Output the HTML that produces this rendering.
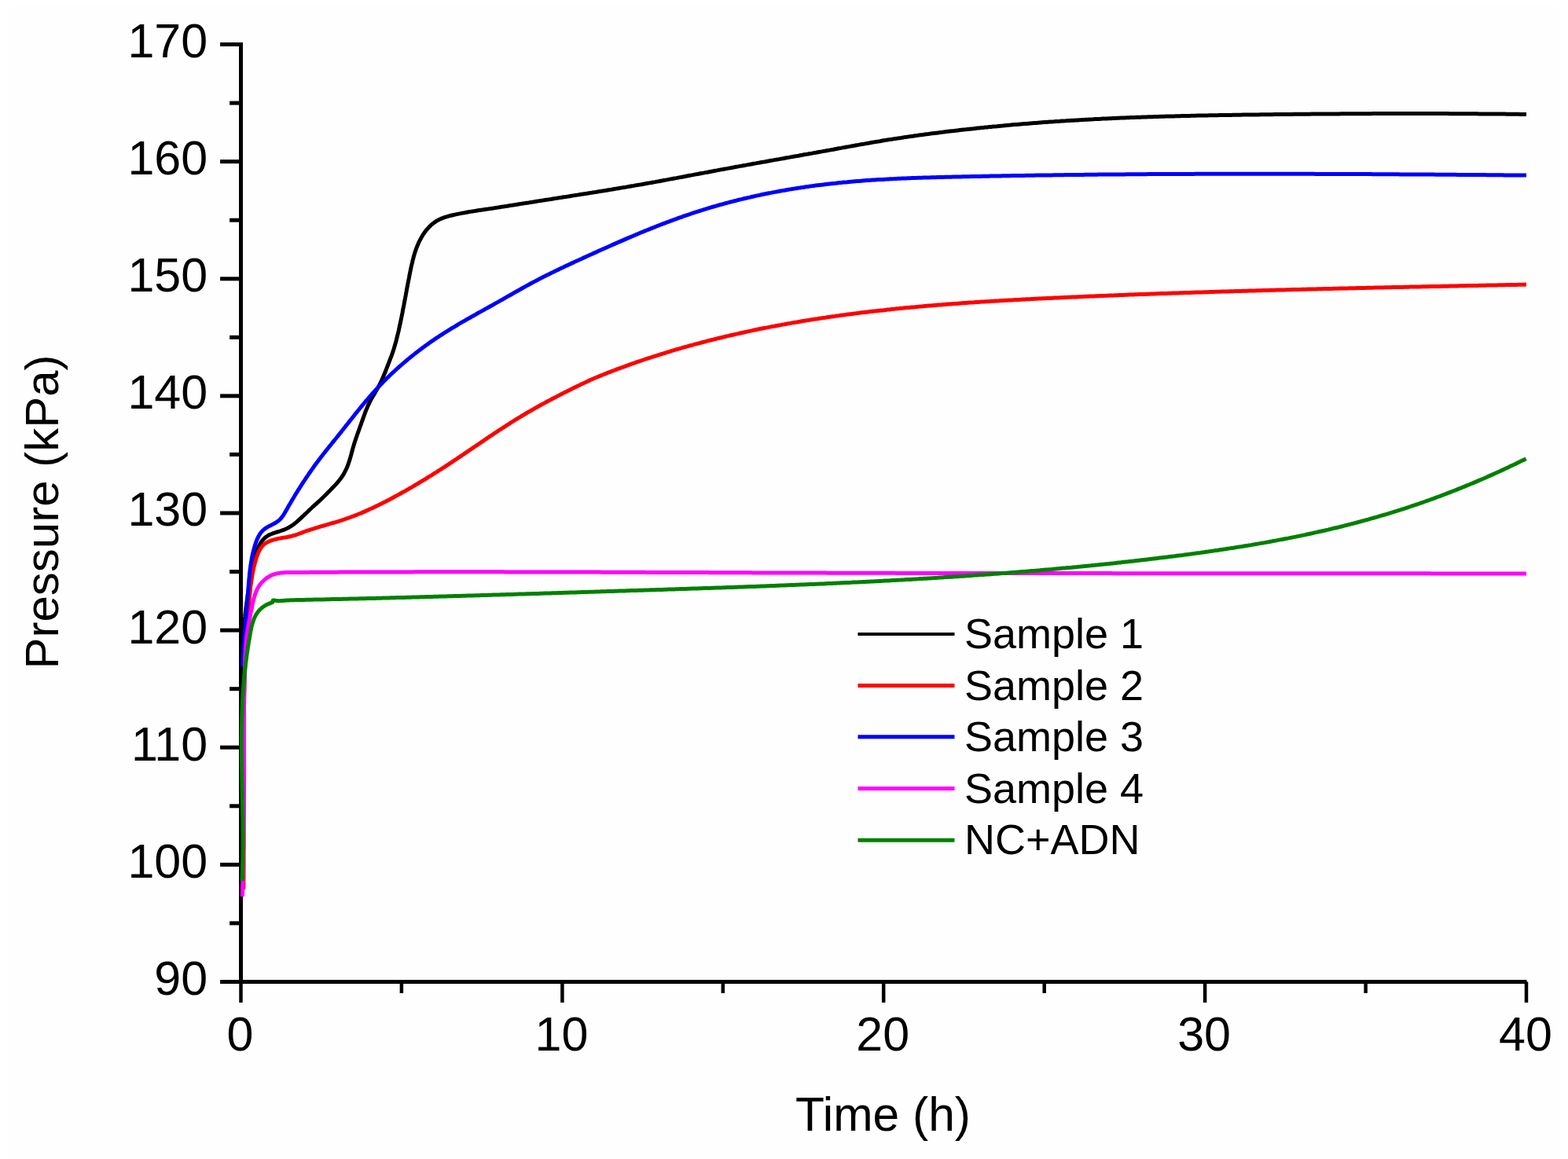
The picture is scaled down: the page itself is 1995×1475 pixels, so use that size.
<!DOCTYPE html><html><head><meta charset="utf-8"><title>Pressure vs Time</title><style>html,body{margin:0;padding:0;background:#fefefe;}svg{display:block;}text{font-family:"Liberation Sans",Arial,sans-serif;fill:#000;}</style></head><body>
<svg width="1995" height="1475" viewBox="0 0 1995 1475">
<rect x="0" y="0" width="1995" height="1475" fill="#fefefe"/>
<rect x="0" y="0" width="1995" height="7" fill="#ffffff"/><rect x="0" y="0" width="12" height="1475" fill="#ffffff"/><rect x="1984" y="0" width="11" height="1475" fill="#ffffff"/>
<g stroke="#000" stroke-width="5.0" fill="none" stroke-linecap="butt">
<line x1="306.5" y1="54.1" x2="306.5" y2="1251.9"/>
<line x1="304.0" y1="1249.5" x2="1942.5" y2="1249.5"/>
<line x1="280.1" y1="1249.5" x2="306.5" y2="1249.5"/>
<line x1="292.1" y1="1174.9" x2="306.5" y2="1174.9"/>
<line x1="280.1" y1="1100.4" x2="306.5" y2="1100.4"/>
<line x1="292.1" y1="1025.8" x2="306.5" y2="1025.8"/>
<line x1="280.1" y1="951.2" x2="306.5" y2="951.2"/>
<line x1="292.1" y1="876.7" x2="306.5" y2="876.7"/>
<line x1="280.1" y1="802.1" x2="306.5" y2="802.1"/>
<line x1="292.1" y1="727.6" x2="306.5" y2="727.6"/>
<line x1="280.1" y1="653.0" x2="306.5" y2="653.0"/>
<line x1="292.1" y1="578.4" x2="306.5" y2="578.4"/>
<line x1="280.1" y1="503.9" x2="306.5" y2="503.9"/>
<line x1="292.1" y1="429.3" x2="306.5" y2="429.3"/>
<line x1="280.1" y1="354.8" x2="306.5" y2="354.8"/>
<line x1="292.1" y1="280.2" x2="306.5" y2="280.2"/>
<line x1="280.1" y1="205.6" x2="306.5" y2="205.6"/>
<line x1="292.1" y1="131.1" x2="306.5" y2="131.1"/>
<line x1="280.1" y1="56.5" x2="306.5" y2="56.5"/>
<line x1="306.5" y1="1249.5" x2="306.5" y2="1275.9" stroke-width="4.5"/>
<line x1="510.9" y1="1249.5" x2="510.9" y2="1263.9" stroke-width="4.5"/>
<line x1="715.4" y1="1249.5" x2="715.4" y2="1275.9" stroke-width="4.5"/>
<line x1="919.8" y1="1249.5" x2="919.8" y2="1263.9" stroke-width="4.5"/>
<line x1="1124.2" y1="1249.5" x2="1124.2" y2="1275.9" stroke-width="4.5"/>
<line x1="1328.7" y1="1249.5" x2="1328.7" y2="1263.9" stroke-width="4.5"/>
<line x1="1533.1" y1="1249.5" x2="1533.1" y2="1275.9" stroke-width="4.5"/>
<line x1="1737.6" y1="1249.5" x2="1737.6" y2="1263.9" stroke-width="4.5"/>
<line x1="1942.0" y1="1249.5" x2="1942.0" y2="1275.9" stroke-width="4.5"/>
</g>
<path d="M307.5 860.0 L307.5 857.5 L307.5 855.0 L307.5 852.4 L307.5 849.9 L307.6 847.4 L307.6 844.9 L307.7 842.4 L307.7 839.9 L307.8 837.3 L307.9 834.8 L308.0 832.3 L308.1 829.8 L308.2 827.3 L308.4 824.8 L308.5 822.3 L308.6 819.8 L308.8 817.3 L309.0 814.8 L309.1 812.3 L309.3 809.9 L309.5 807.4 L309.7 804.9 L309.9 802.4 L310.2 799.9 L310.4 797.4 L310.6 794.9 L310.9 792.4 L311.1 790.0 L311.4 787.5 L311.7 785.0 L311.9 782.5 L312.2 780.0 L312.5 777.6 L312.8 775.1 L313.1 772.6 L313.5 770.1 L313.8 767.6 L314.1 765.2 L314.5 762.7 L314.8 760.2 L315.2 757.7 L315.5 755.2 L315.9 752.8 L316.3 750.3 L316.6 747.8 L317.0 745.3 L317.4 742.8 L317.8 740.4 L318.2 737.9 L318.7 735.4 L319.1 732.9 L319.5 730.4 L319.9 727.9 L320.4 725.5 L320.8 723.0 L321.3 720.5 L321.8 718.0 L322.4 715.6 L322.9 713.1 L323.6 710.7 L324.2 708.3 L325.0 705.9 L325.8 703.6 L326.6 701.2 L327.6 698.9 L328.6 696.6 L329.7 694.4 L330.9 692.2 L332.2 690.1 L333.7 688.1 L335.3 686.2 L337.0 684.5 L338.9 683.0 L341.0 681.6 L343.2 680.5 L345.5 679.5 L347.8 678.6 L350.2 677.8 L352.7 677.0 L355.1 676.3 L357.5 675.5 L359.9 674.7 L362.3 673.8 L364.6 672.8 L366.8 671.7 L368.9 670.4 L371.0 669.1 L373.0 667.7 L375.0 666.2 L377.0 664.6 L378.9 663.0 L380.7 661.3 L382.6 659.6 L384.4 657.9 L386.2 656.2 L388.1 654.4 L389.9 652.7 L391.7 651.0 L393.5 649.2 L395.4 647.5 L397.2 645.8 L399.0 644.1 L400.9 642.4 L402.7 640.8 L404.5 639.1 L406.4 637.4 L408.2 635.7 L410.0 634.0 L411.8 632.2 L413.6 630.5 L415.4 628.7 L417.1 626.9 L418.9 625.2 L420.6 623.4 L422.4 621.5 L424.1 619.7 L425.9 617.9 L427.6 616.1 L429.3 614.2 L430.9 612.3 L432.5 610.3 L434.0 608.3 L435.4 606.3 L436.7 604.2 L438.0 602.0 L439.1 599.8 L440.2 597.6 L441.3 595.3 L442.2 593.0 L443.1 590.7 L443.9 588.3 L444.7 585.9 L445.4 583.5 L446.1 581.1 L446.8 578.7 L447.4 576.2 L448.1 573.8 L448.7 571.4 L449.4 569.0 L450.1 566.6 L450.8 564.2 L451.6 561.8 L452.4 559.4 L453.2 557.0 L454.0 554.7 L454.8 552.3 L455.7 550.0 L456.5 547.6 L457.4 545.3 L458.2 542.9 L459.1 540.6 L459.9 538.2 L460.7 535.8 L461.6 533.5 L462.4 531.1 L463.3 528.7 L464.1 526.4 L465.0 524.0 L465.9 521.7 L466.9 519.4 L467.9 517.1 L468.9 514.8 L470.0 512.5 L471.1 510.3 L472.3 508.1 L473.5 505.9 L474.8 503.7 L476.1 501.6 L477.4 499.4 L478.6 497.3 L479.9 495.1 L481.1 492.9 L482.3 490.7 L483.5 488.5 L484.6 486.2 L485.6 484.0 L486.6 481.7 L487.6 479.4 L488.6 477.1 L489.6 474.8 L490.5 472.5 L491.4 470.2 L492.3 467.8 L493.2 465.5 L494.1 463.2 L495.0 460.8 L495.9 458.5 L496.8 456.1 L497.7 453.8 L498.6 451.4 L499.4 449.1 L500.2 446.7 L501.0 444.3 L501.7 441.9 L502.4 439.5 L503.1 437.1 L503.8 434.7 L504.4 432.3 L505.0 429.8 L505.6 427.4 L506.2 425.0 L506.8 422.5 L507.4 420.1 L507.9 417.6 L508.4 415.2 L509.0 412.7 L509.5 410.3 L510.0 407.8 L510.5 405.4 L511.0 402.9 L511.5 400.5 L512.0 398.0 L512.4 395.6 L512.9 393.1 L513.4 390.6 L513.9 388.2 L514.3 385.7 L514.8 383.3 L515.2 380.8 L515.7 378.4 L516.2 375.9 L516.6 373.4 L517.1 371.0 L517.5 368.5 L518.0 366.1 L518.5 363.6 L518.9 361.1 L519.4 358.7 L519.9 356.2 L520.4 353.7 L520.8 351.3 L521.3 348.8 L521.8 346.3 L522.3 343.9 L522.8 341.4 L523.3 339.0 L523.9 336.5 L524.5 334.1 L525.0 331.6 L525.7 329.2 L526.3 326.8 L527.0 324.4 L527.7 322.0 L528.5 319.6 L529.3 317.2 L530.2 314.9 L531.1 312.6 L532.1 310.3 L533.1 308.0 L534.2 305.8 L535.4 303.6 L536.6 301.4 L537.9 299.2 L539.3 297.1 L540.8 295.0 L542.3 293.0 L544.0 291.1 L545.6 289.3 L547.4 287.5 L549.2 285.8 L551.2 284.2 L553.1 282.8 L555.2 281.4 L557.3 280.2 L559.6 279.1 L561.8 278.1 L564.1 277.2 L566.5 276.3 L568.9 275.6 L571.4 274.9 L573.8 274.3 L576.3 273.7 L578.8 273.1 L581.3 272.6 L583.7 272.1 L586.2 271.6 L588.7 271.1 L591.2 270.7 L593.6 270.2 L596.1 269.8 L598.6 269.4 L601.0 269.0 L603.5 268.6 L606.0 268.2 L608.4 267.8 L610.9 267.4 L613.4 267.1 L615.8 266.7 L618.3 266.3 L620.7 266.0 L623.2 265.6 L625.7 265.2 L628.1 264.9 L630.6 264.5 L633.1 264.1 L635.6 263.7 L638.0 263.3 L640.5 262.9 L643.0 262.6 L645.5 262.2 L647.9 261.8 L650.4 261.4 L652.9 261.0 L655.4 260.6 L657.8 260.2 L660.3 259.8 L662.8 259.4 L665.3 259.0 L667.8 258.6 L670.2 258.2 L672.7 257.9 L675.2 257.5 L677.7 257.1 L680.1 256.7 L682.6 256.3 L685.1 255.9 L687.6 255.5 L690.1 255.1 L692.5 254.7 L695.0 254.3 L697.5 254.0 L700.0 253.6 L702.4 253.2 L704.9 252.8 L707.4 252.4 L709.9 252.0 L712.3 251.6 L714.8 251.2 L717.3 250.8 L719.8 250.5 L722.2 250.1 L724.7 249.7 L727.2 249.3 L729.7 248.9 L732.1 248.5 L734.6 248.1 L737.1 247.7 L739.6 247.3 L742.0 246.9 L744.5 246.6 L747.0 246.2 L749.5 245.8 L751.9 245.4 L754.4 245.0 L756.9 244.6 L759.4 244.2 L761.8 243.8 L764.3 243.4 L766.8 243.0 L769.2 242.6 L771.7 242.2 L774.2 241.8 L776.7 241.4 L779.1 241.0 L781.6 240.5 L784.1 240.1 L786.5 239.7 L789.0 239.3 L791.5 238.9 L793.9 238.5 L796.4 238.1 L798.9 237.6 L801.3 237.2 L803.8 236.8 L806.3 236.4 L808.7 235.9 L811.2 235.5 L813.7 235.1 L816.2 234.7 L818.6 234.2 L821.1 233.8 L823.6 233.3 L826.0 232.9 L828.5 232.5 L830.9 232.0 L833.4 231.6 L835.9 231.1 L838.3 230.7 L840.8 230.2 L843.3 229.8 L845.7 229.3 L848.2 228.9 L850.7 228.4 L853.1 227.9 L855.6 227.5 L858.1 227.0 L860.5 226.6 L863.0 226.1 L865.5 225.6 L867.9 225.2 L870.4 224.7 L872.8 224.3 L875.3 223.8 L877.8 223.3 L880.2 222.9 L882.7 222.4 L885.2 221.9 L887.6 221.5 L890.1 221.0 L892.5 220.5 L895.0 220.1 L897.5 219.6 L899.9 219.2 L902.4 218.7 L904.9 218.2 L907.3 217.8 L909.8 217.3 L912.3 216.9 L914.7 216.4 L917.2 215.9 L919.6 215.5 L922.1 215.0 L924.6 214.6 L927.0 214.1 L929.5 213.7 L932.0 213.2 L934.4 212.8 L936.9 212.3 L939.4 211.9 L941.8 211.4 L944.3 211.0 L946.8 210.5 L949.2 210.1 L951.7 209.6 L954.1 209.2 L956.6 208.8 L959.1 208.3 L961.5 207.9 L964.0 207.4 L966.5 207.0 L968.9 206.5 L971.4 206.1 L973.9 205.7 L976.3 205.2 L978.8 204.8 L981.3 204.3 L983.7 203.9 L986.2 203.4 L988.7 203.0 L991.1 202.6 L993.6 202.1 L996.1 201.7 L998.5 201.2 L1001.0 200.8 L1003.5 200.4 L1005.9 199.9 L1008.4 199.5 L1010.9 199.0 L1013.3 198.6 L1015.8 198.2 L1018.3 197.7 L1020.7 197.3 L1023.2 196.8 L1025.7 196.4 L1028.1 196.0 L1030.6 195.5 L1033.1 195.1 L1035.5 194.6 L1038.0 194.2 L1040.5 193.7 L1042.9 193.3 L1045.4 192.9 L1047.9 192.4 L1050.3 192.0 L1052.8 191.5 L1055.3 191.1 L1057.7 190.6 L1060.2 190.2 L1062.6 189.7 L1065.1 189.3 L1067.6 188.8 L1070.0 188.4 L1072.5 187.9 L1075.0 187.5 L1077.4 187.0 L1079.9 186.6 L1082.4 186.1 L1084.8 185.7 L1087.3 185.3 L1089.8 184.8 L1092.2 184.4 L1094.7 183.9 L1097.2 183.5 L1099.6 183.1 L1102.1 182.6 L1104.6 182.2 L1107.0 181.8 L1109.5 181.3 L1112.0 180.9 L1114.4 180.5 L1116.9 180.1 L1119.4 179.7 L1121.8 179.2 L1124.3 178.8 L1126.8 178.4 L1129.3 178.0 L1131.7 177.6 L1134.2 177.3 L1136.7 176.9 L1139.2 176.5 L1141.6 176.1 L1144.1 175.7 L1146.6 175.4 L1149.1 175.0 L1151.5 174.6 L1154.0 174.3 L1156.5 173.9 L1159.0 173.5 L1161.5 173.2 L1163.9 172.8 L1166.4 172.5 L1168.9 172.1 L1171.4 171.8 L1173.9 171.5 L1176.4 171.1 L1178.8 170.8 L1181.3 170.5 L1183.8 170.1 L1186.3 169.8 L1188.8 169.5 L1191.3 169.2 L1193.8 168.9 L1196.2 168.6 L1198.7 168.3 L1201.2 167.9 L1203.7 167.6 L1206.2 167.3 L1208.7 167.0 L1211.2 166.7 L1213.7 166.5 L1216.1 166.2 L1218.6 165.9 L1221.1 165.6 L1223.6 165.3 L1226.1 165.0 L1228.6 164.8 L1231.1 164.5 L1233.6 164.2 L1236.1 163.9 L1238.6 163.7 L1241.1 163.4 L1243.5 163.1 L1246.0 162.9 L1248.5 162.6 L1251.0 162.4 L1253.5 162.1 L1256.0 161.9 L1258.5 161.6 L1261.0 161.4 L1263.5 161.1 L1266.0 160.9 L1268.5 160.7 L1271.0 160.4 L1273.5 160.2 L1276.0 160.0 L1278.5 159.7 L1280.9 159.5 L1283.4 159.3 L1285.9 159.1 L1288.4 158.8 L1290.9 158.6 L1293.4 158.4 L1295.9 158.2 L1298.4 158.0 L1300.9 157.8 L1303.4 157.6 L1305.9 157.4 L1308.4 157.2 L1310.9 157.0 L1313.4 156.8 L1315.9 156.6 L1318.4 156.4 L1320.9 156.2 L1323.4 156.0 L1325.9 155.8 L1328.4 155.6 L1330.9 155.5 L1333.4 155.3 L1335.9 155.1 L1338.4 154.9 L1340.9 154.8 L1343.4 154.6 L1345.9 154.4 L1348.4 154.3 L1350.9 154.1 L1353.4 153.9 L1355.9 153.8 L1358.4 153.6 L1360.9 153.5 L1363.4 153.3 L1365.9 153.2 L1368.4 153.0 L1370.9 152.9 L1373.4 152.7 L1375.9 152.6 L1378.4 152.4 L1380.9 152.3 L1383.4 152.2 L1385.9 152.0 L1388.4 151.9 L1390.9 151.8 L1393.4 151.6 L1395.9 151.5 L1398.4 151.4 L1400.9 151.2 L1403.4 151.1 L1405.9 151.0 L1408.4 150.9 L1410.9 150.8 L1413.4 150.7 L1415.9 150.5 L1418.4 150.4 L1420.9 150.3 L1423.4 150.2 L1425.9 150.1 L1428.4 150.0 L1430.9 149.9 L1433.4 149.8 L1436.0 149.7 L1438.5 149.6 L1441.0 149.5 L1443.5 149.4 L1446.0 149.3 L1448.5 149.2 L1451.0 149.2 L1453.5 149.1 L1456.0 149.0 L1458.5 148.9 L1461.0 148.8 L1463.5 148.7 L1466.0 148.7 L1468.5 148.6 L1471.0 148.5 L1473.5 148.4 L1476.0 148.3 L1478.5 148.3 L1481.0 148.2 L1483.5 148.1 L1486.0 148.1 L1488.5 148.0 L1491.0 147.9 L1493.5 147.9 L1496.0 147.8 L1498.6 147.7 L1501.1 147.7 L1503.6 147.6 L1506.1 147.5 L1508.6 147.5 L1511.1 147.4 L1513.6 147.4 L1516.1 147.3 L1518.6 147.3 L1521.1 147.2 L1523.6 147.1 L1526.1 147.1 L1528.6 147.0 L1531.1 147.0 L1533.6 146.9 L1536.1 146.9 L1538.6 146.8 L1541.1 146.8 L1543.6 146.8 L1546.2 146.7 L1548.7 146.7 L1551.2 146.6 L1553.7 146.6 L1556.2 146.5 L1558.7 146.5 L1561.2 146.5 L1563.7 146.4 L1566.2 146.4 L1568.7 146.3 L1571.2 146.3 L1573.7 146.3 L1576.2 146.2 L1578.7 146.2 L1581.2 146.1 L1583.7 146.1 L1586.2 146.1 L1588.7 146.0 L1591.2 146.0 L1593.8 146.0 L1596.3 145.9 L1598.8 145.9 L1601.3 145.9 L1603.8 145.8 L1606.3 145.8 L1608.8 145.8 L1611.3 145.7 L1613.8 145.7 L1616.3 145.7 L1618.8 145.7 L1621.3 145.6 L1623.8 145.6 L1626.3 145.6 L1628.8 145.5 L1631.3 145.5 L1633.8 145.5 L1636.3 145.5 L1638.9 145.4 L1641.4 145.4 L1643.9 145.4 L1646.4 145.3 L1648.9 145.3 L1651.4 145.3 L1653.9 145.3 L1656.4 145.2 L1658.9 145.2 L1661.4 145.2 L1663.9 145.2 L1666.4 145.2 L1668.9 145.1 L1671.4 145.1 L1673.9 145.1 L1676.4 145.1 L1678.9 145.0 L1681.4 145.0 L1683.9 145.0 L1686.5 145.0 L1689.0 145.0 L1691.5 144.9 L1694.0 144.9 L1696.5 144.9 L1699.0 144.9 L1701.5 144.9 L1704.0 144.9 L1706.5 144.8 L1709.0 144.8 L1711.5 144.8 L1714.0 144.8 L1716.5 144.8 L1719.0 144.8 L1721.5 144.8 L1724.0 144.7 L1726.5 144.7 L1729.0 144.7 L1731.5 144.7 L1734.1 144.7 L1736.6 144.7 L1739.1 144.7 L1741.6 144.7 L1744.1 144.7 L1746.6 144.6 L1749.1 144.6 L1751.6 144.6 L1754.1 144.6 L1756.6 144.6 L1759.1 144.6 L1761.6 144.6 L1764.1 144.6 L1766.6 144.6 L1769.1 144.6 L1771.6 144.6 L1774.1 144.6 L1776.6 144.6 L1779.1 144.6 L1781.7 144.6 L1784.2 144.6 L1786.7 144.6 L1789.2 144.6 L1791.7 144.6 L1794.2 144.6 L1796.7 144.6 L1799.2 144.6 L1801.7 144.6 L1804.2 144.6 L1806.7 144.6 L1809.2 144.6 L1811.7 144.6 L1814.2 144.6 L1816.7 144.6 L1819.2 144.6 L1821.7 144.6 L1824.2 144.6 L1826.7 144.6 L1829.3 144.6 L1831.8 144.6 L1834.3 144.6 L1836.8 144.6 L1839.3 144.6 L1841.8 144.6 L1844.3 144.7 L1846.8 144.7 L1849.3 144.7 L1851.8 144.7 L1854.3 144.7 L1856.8 144.7 L1859.3 144.7 L1861.8 144.7 L1864.3 144.8 L1866.8 144.8 L1869.3 144.8 L1871.8 144.8 L1874.4 144.8 L1876.9 144.8 L1879.4 144.8 L1881.9 144.9 L1884.4 144.9 L1886.9 144.9 L1889.4 144.9 L1891.9 144.9 L1894.4 145.0 L1896.9 145.0 L1899.4 145.0 L1901.9 145.0 L1904.4 145.0 L1906.9 145.1 L1909.4 145.1 L1911.9 145.1 L1914.4 145.1 L1916.9 145.2 L1919.5 145.2 L1922.0 145.2 L1924.5 145.2 L1927.0 145.3 L1929.5 145.3 L1932.0 145.3 L1934.5 145.4 L1937.0 145.4 L1939.5 145.4 L1942.0 145.5" fill="none" stroke="#000000" stroke-width="5.0" stroke-linejoin="round" stroke-linecap="butt"/>
<path d="M309.8 1132.0 L309.8 1129.5 L309.9 1127.0 L309.9 1124.5 L309.9 1122.0 L309.9 1119.5 L310.0 1117.0 L310.0 1114.5 L310.0 1112.0 L310.0 1109.5 L310.0 1107.0 L310.1 1104.5 L310.1 1102.0 L310.1 1099.5 L310.1 1097.0 L310.1 1094.5 L310.1 1092.0 L310.1 1089.5 L310.1 1086.9 L310.1 1084.4 L310.1 1081.9 L310.2 1079.4 L310.2 1076.9 L310.2 1074.4 L310.2 1071.9 L310.2 1069.4 L310.2 1066.9 L310.2 1064.4 L310.2 1061.9 L310.1 1059.4 L310.1 1056.9 L310.1 1054.4 L310.1 1051.9 L310.1 1049.4 L310.1 1046.9 L310.1 1044.4 L310.1 1041.9 L310.1 1039.4 L310.1 1036.9 L310.1 1034.4 L310.1 1031.9 L310.1 1029.4 L310.1 1026.9 L310.1 1024.4 L310.0 1021.9 L310.0 1019.4 L310.0 1016.9 L310.0 1014.3 L310.0 1011.8 L310.0 1009.3 L310.0 1006.8 L310.0 1004.3 L310.0 1001.8 L310.0 999.3 L310.0 996.8 L310.0 994.3 L310.0 991.8 L310.0 989.3 L309.9 986.8 L309.9 984.3 L309.9 981.8 L309.9 979.3 L309.9 976.8 L309.9 974.3 L309.9 971.8 L309.9 969.3 L309.9 966.8 L309.9 964.3 L309.9 961.8 L309.9 959.3 L310.0 956.8 L310.0 954.3 L310.0 951.8 L310.0 949.3 L310.0 946.8 L310.0 944.3 L310.0 941.8 L310.0 939.3 L310.0 936.8 L310.1 934.3 L310.1 931.8 L310.1 929.3 L310.1 926.8 L310.1 924.2 L310.2 921.7 L310.2 919.2 L310.2 916.7 L310.3 914.2 L310.3 911.7 L310.3 909.2 L310.4 906.7 L310.4 904.2 L310.4 901.7 L310.5 899.2 L310.5 896.7 L310.6 894.2 L310.6 891.7 L310.7 889.2 L310.7 886.7 L310.8 884.2 L310.8 881.7 L310.9 879.2 L311.0 876.7 L311.0 874.2 L311.1 871.7 L311.2 869.2 L311.2 866.7 L311.3 864.2 L311.4 861.7 L311.5 859.2 L311.6 856.7 L311.6 854.2 L311.7 851.7 L311.8 849.2 L311.9 846.7 L312.0 844.2 L312.1 841.7 L312.2 839.2 L312.3 836.7 L312.5 834.2 L312.6 831.7 L312.7 829.2 L312.8 826.7 L312.9 824.2 L313.1 821.7 L313.2 819.2 L313.3 816.7 L313.5 814.2 L313.6 811.7 L313.8 809.2 L313.9 806.7 L314.1 804.2 L314.2 801.7 L314.4 799.2 L314.6 796.7 L314.7 794.2 L314.9 791.7 L315.1 789.2 L315.3 786.7 L315.4 784.2 L315.6 781.7 L315.8 779.2 L316.0 776.7 L316.2 774.2 L316.4 771.7 L316.6 769.2 L316.9 766.7 L317.1 764.2 L317.3 761.7 L317.5 759.2 L317.8 756.7 L318.0 754.3 L318.3 751.8 L318.5 749.3 L318.8 746.8 L319.1 744.3 L319.5 741.8 L319.8 739.3 L320.2 736.9 L320.6 734.4 L321.0 731.9 L321.4 729.5 L321.9 727.0 L322.4 724.6 L322.9 722.1 L323.5 719.7 L324.1 717.3 L324.8 714.8 L325.5 712.4 L326.2 710.0 L327.0 707.6 L327.9 705.3 L328.8 703.0 L329.9 700.8 L331.1 698.7 L332.4 696.7 L333.9 694.8 L335.6 693.1 L337.5 691.6 L339.6 690.3 L341.9 689.2 L344.3 688.2 L346.7 687.3 L349.3 686.6 L351.8 686.0 L354.3 685.4 L356.8 685.0 L359.3 684.5 L361.7 684.1 L364.2 683.7 L366.6 683.2 L369.0 682.7 L371.4 682.2 L373.8 681.5 L376.2 680.8 L378.5 680.0 L380.8 679.1 L383.2 678.3 L385.5 677.4 L387.8 676.5 L390.2 675.7 L392.6 674.9 L394.9 674.1 L397.3 673.3 L399.7 672.6 L402.1 671.8 L404.5 671.1 L406.9 670.4 L409.3 669.7 L411.7 669.0 L414.1 668.3 L416.5 667.6 L418.9 666.9 L421.3 666.2 L423.7 665.5 L426.1 664.8 L428.5 664.1 L430.9 663.3 L433.3 662.6 L435.6 661.8 L438.0 661.0 L440.4 660.2 L442.7 659.4 L445.1 658.5 L447.4 657.7 L449.8 656.8 L452.1 655.9 L454.4 655.0 L456.7 654.0 L459.1 653.1 L461.4 652.1 L463.7 651.1 L465.9 650.1 L468.2 649.1 L470.5 648.0 L472.8 647.0 L475.1 645.9 L477.3 644.9 L479.6 643.8 L481.8 642.7 L484.1 641.6 L486.3 640.5 L488.5 639.3 L490.8 638.2 L493.0 637.0 L495.2 635.9 L497.4 634.7 L499.7 633.5 L501.9 632.3 L504.1 631.1 L506.3 629.9 L508.5 628.7 L510.6 627.5 L512.8 626.3 L515.0 625.1 L517.2 623.8 L519.4 622.6 L521.5 621.3 L523.7 620.1 L525.9 618.8 L528.0 617.5 L530.2 616.3 L532.3 615.0 L534.5 613.7 L536.6 612.4 L538.7 611.1 L540.9 609.8 L543.0 608.5 L545.1 607.2 L547.3 605.9 L549.4 604.6 L551.5 603.2 L553.6 601.9 L555.7 600.6 L557.8 599.2 L560.0 597.9 L562.1 596.5 L564.2 595.2 L566.3 593.8 L568.4 592.4 L570.4 591.1 L572.5 589.7 L574.6 588.3 L576.7 586.9 L578.8 585.5 L580.9 584.1 L582.9 582.7 L585.0 581.3 L587.1 579.9 L589.2 578.5 L591.2 577.1 L593.3 575.7 L595.4 574.3 L597.4 572.9 L599.5 571.5 L601.6 570.1 L603.7 568.7 L605.7 567.3 L607.8 565.9 L609.9 564.5 L611.9 563.1 L614.0 561.7 L616.1 560.2 L618.1 558.8 L620.2 557.4 L622.3 556.0 L624.4 554.7 L626.5 553.3 L628.5 551.9 L630.6 550.5 L632.7 549.1 L634.8 547.7 L636.9 546.4 L639.0 545.0 L641.1 543.6 L643.2 542.3 L645.3 540.9 L647.4 539.6 L649.5 538.2 L651.6 536.9 L653.7 535.6 L655.9 534.2 L658.0 532.9 L660.1 531.6 L662.3 530.3 L664.4 529.0 L666.6 527.8 L668.7 526.5 L670.9 525.2 L673.0 523.9 L675.2 522.7 L677.4 521.5 L679.6 520.2 L681.7 519.0 L683.9 517.8 L686.1 516.5 L688.3 515.3 L690.5 514.1 L692.7 512.9 L694.9 511.7 L697.1 510.5 L699.3 509.4 L701.5 508.2 L703.7 507.0 L705.9 505.9 L708.2 504.7 L710.4 503.6 L712.6 502.4 L714.8 501.3 L717.1 500.1 L719.3 499.0 L721.5 497.9 L723.8 496.8 L726.0 495.7 L728.2 494.6 L730.5 493.4 L732.7 492.4 L735.0 491.3 L737.2 490.2 L739.5 489.1 L741.7 488.0 L744.0 487.0 L746.3 485.9 L748.5 484.9 L750.8 483.8 L753.1 482.8 L755.4 481.8 L757.7 480.8 L760.0 479.8 L762.3 478.9 L764.6 477.9 L766.9 477.0 L769.2 476.1 L771.6 475.1 L773.9 474.2 L776.2 473.3 L778.6 472.4 L780.9 471.5 L783.3 470.6 L785.6 469.7 L788.0 468.9 L790.3 468.0 L792.7 467.1 L795.0 466.3 L797.4 465.4 L799.7 464.6 L802.1 463.7 L804.4 462.9 L806.8 462.1 L809.2 461.2 L811.5 460.4 L813.9 459.6 L816.3 458.8 L818.6 458.0 L821.0 457.2 L823.4 456.4 L825.8 455.6 L828.2 454.9 L830.5 454.1 L832.9 453.3 L835.3 452.6 L837.7 451.8 L840.1 451.0 L842.5 450.3 L844.9 449.6 L847.2 448.8 L849.6 448.1 L852.0 447.4 L854.4 446.6 L856.8 445.9 L859.2 445.2 L861.6 444.5 L864.0 443.8 L866.4 443.1 L868.8 442.4 L871.2 441.7 L873.7 441.1 L876.1 440.4 L878.5 439.7 L880.9 439.1 L883.3 438.4 L885.7 437.7 L888.1 437.1 L890.6 436.5 L893.0 435.8 L895.4 435.2 L897.8 434.6 L900.2 433.9 L902.7 433.3 L905.1 432.7 L907.5 432.1 L909.9 431.5 L912.4 430.9 L914.8 430.3 L917.2 429.7 L919.7 429.1 L922.1 428.5 L924.5 427.9 L927.0 427.4 L929.4 426.8 L931.9 426.2 L934.3 425.7 L936.7 425.1 L939.2 424.6 L941.6 424.0 L944.1 423.5 L946.5 423.0 L949.0 422.4 L951.4 421.9 L953.8 421.4 L956.3 420.9 L958.7 420.3 L961.2 419.8 L963.6 419.3 L966.1 418.8 L968.6 418.3 L971.0 417.8 L973.5 417.3 L975.9 416.9 L978.4 416.4 L980.8 415.9 L983.3 415.4 L985.8 415.0 L988.2 414.5 L990.7 414.0 L993.1 413.6 L995.6 413.1 L998.1 412.7 L1000.5 412.2 L1003.0 411.8 L1005.5 411.4 L1007.9 410.9 L1010.4 410.5 L1012.9 410.1 L1015.3 409.7 L1017.8 409.2 L1020.3 408.8 L1022.7 408.4 L1025.2 408.0 L1027.7 407.6 L1030.1 407.2 L1032.6 406.8 L1035.1 406.4 L1037.6 406.0 L1040.0 405.7 L1042.5 405.3 L1045.0 404.9 L1047.5 404.5 L1049.9 404.2 L1052.4 403.8 L1054.9 403.4 L1057.4 403.1 L1059.8 402.7 L1062.3 402.4 L1064.8 402.0 L1067.3 401.7 L1069.7 401.3 L1072.2 401.0 L1074.7 400.7 L1077.2 400.3 L1079.7 400.0 L1082.1 399.7 L1084.6 399.4 L1087.1 399.1 L1089.6 398.7 L1092.1 398.4 L1094.6 398.1 L1097.0 397.8 L1099.5 397.5 L1102.0 397.2 L1104.5 396.9 L1107.0 396.6 L1109.5 396.3 L1111.9 396.0 L1114.4 395.8 L1116.9 395.5 L1119.4 395.2 L1121.9 394.9 L1124.4 394.7 L1126.9 394.4 L1129.3 394.1 L1131.8 393.9 L1134.3 393.6 L1136.8 393.3 L1139.3 393.1 L1141.8 392.8 L1144.3 392.6 L1146.8 392.3 L1149.3 392.1 L1151.7 391.8 L1154.2 391.6 L1156.7 391.4 L1159.2 391.1 L1161.7 390.9 L1164.2 390.7 L1166.7 390.4 L1169.2 390.2 L1171.7 390.0 L1174.2 389.8 L1176.7 389.5 L1179.2 389.3 L1181.6 389.1 L1184.1 388.9 L1186.6 388.7 L1189.1 388.5 L1191.6 388.3 L1194.1 388.1 L1196.6 387.9 L1199.1 387.7 L1201.6 387.5 L1204.1 387.3 L1206.6 387.1 L1209.1 386.9 L1211.6 386.7 L1214.1 386.5 L1216.6 386.4 L1219.1 386.2 L1221.6 386.0 L1224.1 385.8 L1226.6 385.6 L1229.1 385.5 L1231.6 385.3 L1234.1 385.1 L1236.6 384.9 L1239.0 384.8 L1241.5 384.6 L1244.0 384.5 L1246.5 384.3 L1249.0 384.1 L1251.5 384.0 L1254.0 383.8 L1256.5 383.7 L1259.0 383.5 L1261.5 383.3 L1264.0 383.2 L1266.5 383.0 L1269.0 382.9 L1271.5 382.8 L1274.0 382.6 L1276.5 382.5 L1279.0 382.3 L1281.5 382.2 L1284.0 382.0 L1286.5 381.9 L1289.0 381.8 L1291.5 381.6 L1294.0 381.5 L1296.5 381.4 L1299.0 381.2 L1301.5 381.1 L1304.0 381.0 L1306.5 380.8 L1309.0 380.7 L1311.5 380.6 L1314.0 380.4 L1316.5 380.3 L1319.0 380.2 L1321.5 380.1 L1324.1 380.0 L1326.6 379.8 L1329.1 379.7 L1331.6 379.6 L1334.1 379.5 L1336.6 379.4 L1339.1 379.2 L1341.6 379.1 L1344.1 379.0 L1346.6 378.9 L1349.1 378.8 L1351.6 378.7 L1354.1 378.5 L1356.6 378.4 L1359.1 378.3 L1361.6 378.2 L1364.1 378.1 L1366.6 378.0 L1369.1 377.9 L1371.6 377.8 L1374.1 377.7 L1376.6 377.6 L1379.1 377.4 L1381.6 377.3 L1384.1 377.2 L1386.6 377.1 L1389.1 377.0 L1391.6 376.9 L1394.1 376.8 L1396.6 376.7 L1399.1 376.6 L1401.6 376.5 L1404.1 376.4 L1406.6 376.3 L1409.1 376.2 L1411.6 376.1 L1414.1 376.0 L1416.6 375.9 L1419.1 375.8 L1421.6 375.7 L1424.1 375.6 L1426.6 375.5 L1429.1 375.4 L1431.6 375.3 L1434.1 375.2 L1436.6 375.1 L1439.1 375.0 L1441.6 374.9 L1444.1 374.8 L1446.6 374.7 L1449.1 374.6 L1451.6 374.5 L1454.1 374.5 L1456.6 374.4 L1459.1 374.3 L1461.6 374.2 L1464.1 374.1 L1466.6 374.0 L1469.1 373.9 L1471.6 373.8 L1474.1 373.7 L1476.6 373.6 L1479.1 373.6 L1481.6 373.5 L1484.1 373.4 L1486.6 373.3 L1489.1 373.2 L1491.6 373.1 L1494.1 373.0 L1496.6 373.0 L1499.1 372.9 L1501.6 372.8 L1504.1 372.7 L1506.6 372.6 L1509.1 372.5 L1511.6 372.5 L1514.1 372.4 L1516.7 372.3 L1519.2 372.2 L1521.7 372.1 L1524.2 372.0 L1526.7 372.0 L1529.2 371.9 L1531.7 371.8 L1534.2 371.7 L1536.7 371.7 L1539.2 371.6 L1541.7 371.5 L1544.2 371.4 L1546.7 371.3 L1549.2 371.3 L1551.7 371.2 L1554.2 371.1 L1556.7 371.0 L1559.2 371.0 L1561.7 370.9 L1564.2 370.8 L1566.7 370.7 L1569.2 370.7 L1571.7 370.6 L1574.2 370.5 L1576.7 370.4 L1579.2 370.4 L1581.7 370.3 L1584.2 370.2 L1586.7 370.2 L1589.2 370.1 L1591.7 370.0 L1594.2 369.9 L1596.7 369.9 L1599.2 369.8 L1601.7 369.7 L1604.2 369.7 L1606.7 369.6 L1609.2 369.5 L1611.7 369.5 L1614.2 369.4 L1616.7 369.3 L1619.2 369.3 L1621.7 369.2 L1624.2 369.1 L1626.7 369.1 L1629.2 369.0 L1631.7 368.9 L1634.2 368.9 L1636.7 368.8 L1639.2 368.7 L1641.7 368.7 L1644.2 368.6 L1646.7 368.5 L1649.2 368.5 L1651.7 368.4 L1654.2 368.4 L1656.7 368.3 L1659.2 368.2 L1661.7 368.2 L1664.2 368.1 L1666.7 368.0 L1669.2 368.0 L1671.7 367.9 L1674.2 367.9 L1676.7 367.8 L1679.2 367.7 L1681.7 367.7 L1684.2 367.6 L1686.7 367.5 L1689.2 367.5 L1691.7 367.4 L1694.2 367.4 L1696.7 367.3 L1699.2 367.3 L1701.7 367.2 L1704.2 367.1 L1706.8 367.1 L1709.3 367.0 L1711.8 367.0 L1714.3 366.9 L1716.8 366.8 L1719.3 366.8 L1721.8 366.7 L1724.3 366.7 L1726.8 366.6 L1729.3 366.6 L1731.8 366.5 L1734.3 366.4 L1736.8 366.4 L1739.3 366.3 L1741.8 366.3 L1744.3 366.2 L1746.8 366.2 L1749.3 366.1 L1751.8 366.1 L1754.3 366.0 L1756.8 365.9 L1759.3 365.9 L1761.8 365.8 L1764.3 365.8 L1766.8 365.7 L1769.3 365.7 L1771.8 365.6 L1774.3 365.6 L1776.8 365.5 L1779.3 365.5 L1781.8 365.4 L1784.3 365.4 L1786.8 365.3 L1789.3 365.2 L1791.8 365.2 L1794.3 365.1 L1796.8 365.1 L1799.3 365.0 L1801.8 365.0 L1804.3 364.9 L1806.8 364.9 L1809.3 364.8 L1811.8 364.8 L1814.3 364.7 L1816.8 364.7 L1819.3 364.6 L1821.9 364.6 L1824.4 364.5 L1826.9 364.5 L1829.4 364.4 L1831.9 364.4 L1834.4 364.3 L1836.9 364.3 L1839.4 364.2 L1841.9 364.2 L1844.4 364.1 L1846.9 364.1 L1849.4 364.0 L1851.9 364.0 L1854.4 363.9 L1856.9 363.8 L1859.4 363.8 L1861.9 363.7 L1864.4 363.7 L1866.9 363.6 L1869.4 363.6 L1871.9 363.5 L1874.4 363.5 L1876.9 363.4 L1879.4 363.4 L1881.9 363.3 L1884.4 363.3 L1886.9 363.2 L1889.4 363.2 L1891.9 363.1 L1894.4 363.1 L1896.9 363.0 L1899.5 363.0 L1902.0 362.9 L1904.5 362.9 L1907.0 362.8 L1909.5 362.8 L1912.0 362.7 L1914.5 362.7 L1917.0 362.6 L1919.5 362.6 L1922.0 362.5 L1924.5 362.5 L1927.0 362.4 L1929.5 362.4 L1932.0 362.3 L1934.5 362.3 L1937.0 362.2 L1939.5 362.2 L1942.0 362.1" fill="none" stroke="#ff0000" stroke-width="5.0" stroke-linejoin="round" stroke-linecap="butt"/>
<path d="M308.6 848.0 L308.7 845.5 L308.9 843.0 L309.0 840.5 L309.1 838.0 L309.3 835.5 L309.4 833.0 L309.6 830.5 L309.7 828.0 L309.9 825.5 L310.0 823.0 L310.2 820.5 L310.4 818.0 L310.6 815.5 L310.7 813.0 L310.9 810.5 L311.1 808.0 L311.3 805.5 L311.5 803.0 L311.7 800.5 L311.9 798.0 L312.1 795.5 L312.3 793.0 L312.5 790.5 L312.7 788.0 L312.9 785.5 L313.1 783.0 L313.3 780.5 L313.5 778.0 L313.7 775.5 L313.9 773.0 L314.1 770.5 L314.3 768.0 L314.5 765.5 L314.8 763.0 L315.0 760.5 L315.2 758.0 L315.4 755.5 L315.6 753.0 L315.8 750.5 L316.0 748.0 L316.2 745.6 L316.4 743.1 L316.6 740.6 L316.8 738.1 L317.1 735.6 L317.3 733.1 L317.5 730.6 L317.8 728.1 L318.1 725.6 L318.4 723.2 L318.7 720.7 L319.1 718.2 L319.5 715.7 L319.9 713.3 L320.3 710.8 L320.8 708.3 L321.3 705.9 L321.9 703.4 L322.5 700.9 L323.1 698.5 L323.8 696.1 L324.6 693.6 L325.3 691.2 L326.2 688.8 L327.1 686.4 L328.2 684.1 L329.3 681.9 L330.6 679.7 L332.0 677.8 L333.6 675.9 L335.3 674.3 L337.2 672.8 L339.3 671.4 L341.4 670.2 L343.6 669.0 L345.8 667.9 L348.0 666.7 L350.2 665.5 L352.2 664.3 L354.2 662.8 L356.0 661.3 L357.6 659.5 L359.1 657.6 L360.5 655.6 L361.8 653.5 L363.1 651.3 L364.3 649.2 L365.6 647.0 L366.8 644.8 L368.1 642.6 L369.4 640.4 L370.6 638.3 L371.9 636.1 L373.2 633.9 L374.5 631.8 L375.8 629.6 L377.1 627.5 L378.4 625.4 L379.8 623.2 L381.1 621.1 L382.4 619.0 L383.8 616.9 L385.2 614.7 L386.5 612.6 L387.9 610.6 L389.3 608.5 L390.7 606.4 L392.1 604.3 L393.5 602.2 L394.9 600.2 L396.4 598.1 L397.8 596.1 L399.3 594.0 L400.7 592.0 L402.2 590.0 L403.7 588.0 L405.2 586.0 L406.7 584.0 L408.2 582.0 L409.8 580.0 L411.3 578.0 L412.9 576.1 L414.4 574.1 L416.0 572.1 L417.5 570.2 L419.1 568.2 L420.7 566.3 L422.3 564.3 L423.8 562.4 L425.4 560.4 L427.0 558.5 L428.6 556.5 L430.1 554.6 L431.7 552.6 L433.3 550.7 L434.8 548.7 L436.4 546.7 L437.9 544.8 L439.5 542.8 L441.0 540.8 L442.6 538.9 L444.1 536.9 L445.7 534.9 L447.3 533.0 L448.8 531.0 L450.4 529.1 L451.9 527.1 L453.5 525.1 L455.1 523.2 L456.7 521.2 L458.2 519.3 L459.8 517.4 L461.4 515.4 L463.0 513.5 L464.6 511.6 L466.2 509.7 L467.9 507.8 L469.5 505.9 L471.1 504.0 L472.8 502.1 L474.4 500.2 L476.1 498.4 L477.8 496.5 L479.5 494.7 L481.2 492.8 L482.9 491.0 L484.6 489.2 L486.4 487.4 L488.1 485.6 L489.9 483.8 L491.6 482.1 L493.4 480.3 L495.2 478.6 L497.0 476.8 L498.8 475.1 L500.7 473.4 L502.5 471.7 L504.4 470.0 L506.2 468.3 L508.1 466.6 L510.0 465.0 L511.9 463.3 L513.8 461.7 L515.7 460.1 L517.6 458.5 L519.5 456.9 L521.4 455.3 L523.4 453.7 L525.4 452.1 L527.3 450.6 L529.3 449.0 L531.3 447.5 L533.3 446.0 L535.3 444.4 L537.3 442.9 L539.3 441.5 L541.3 440.0 L543.4 438.5 L545.4 437.1 L547.4 435.6 L549.5 434.2 L551.6 432.8 L553.6 431.3 L555.7 429.9 L557.8 428.6 L559.9 427.2 L562.0 425.8 L564.1 424.5 L566.2 423.1 L568.3 421.8 L570.5 420.5 L572.6 419.2 L574.7 417.8 L576.9 416.6 L579.0 415.3 L581.2 414.0 L583.3 412.7 L585.5 411.4 L587.6 410.2 L589.8 408.9 L592.0 407.7 L594.1 406.4 L596.3 405.2 L598.5 404.0 L600.7 402.7 L602.9 401.5 L605.0 400.3 L607.2 399.0 L609.4 397.8 L611.6 396.6 L613.8 395.4 L616.0 394.2 L618.2 392.9 L620.4 391.7 L622.6 390.5 L624.8 389.3 L627.0 388.1 L629.1 386.8 L631.3 385.6 L633.5 384.4 L635.7 383.1 L637.9 381.9 L640.1 380.7 L642.3 379.4 L644.4 378.2 L646.6 376.9 L648.8 375.7 L651.0 374.5 L653.2 373.2 L655.3 372.0 L657.5 370.7 L659.7 369.5 L661.9 368.3 L664.1 367.0 L666.3 365.8 L668.4 364.6 L670.6 363.4 L672.8 362.2 L675.0 361.0 L677.2 359.8 L679.5 358.6 L681.7 357.4 L683.9 356.3 L686.1 355.1 L688.3 354.0 L690.5 352.8 L692.8 351.7 L695.0 350.6 L697.2 349.5 L699.5 348.4 L701.7 347.2 L704.0 346.2 L706.2 345.1 L708.5 344.0 L710.7 342.9 L713.0 341.8 L715.3 340.7 L717.5 339.7 L719.8 338.6 L722.0 337.6 L724.3 336.5 L726.6 335.4 L728.9 334.4 L731.1 333.3 L733.4 332.3 L735.7 331.3 L737.9 330.2 L740.2 329.2 L742.5 328.1 L744.8 327.1 L747.1 326.0 L749.3 325.0 L751.6 324.0 L753.9 322.9 L756.2 321.9 L758.5 320.9 L760.8 319.8 L763.0 318.8 L765.3 317.8 L767.6 316.7 L769.9 315.7 L772.2 314.7 L774.5 313.7 L776.8 312.7 L779.1 311.6 L781.4 310.6 L783.7 309.6 L786.0 308.6 L788.3 307.6 L790.6 306.6 L792.9 305.6 L795.2 304.6 L797.5 303.6 L799.8 302.6 L802.1 301.7 L804.4 300.7 L806.7 299.7 L809.0 298.7 L811.3 297.8 L813.6 296.8 L816.0 295.8 L818.3 294.9 L820.6 293.9 L822.9 293.0 L825.2 292.1 L827.6 291.1 L829.9 290.2 L832.2 289.3 L834.6 288.3 L836.9 287.4 L839.2 286.5 L841.6 285.6 L843.9 284.7 L846.2 283.8 L848.6 282.9 L850.9 282.1 L853.3 281.2 L855.6 280.3 L858.0 279.4 L860.3 278.6 L862.7 277.7 L865.0 276.9 L867.4 276.1 L869.8 275.2 L872.1 274.4 L874.5 273.6 L876.9 272.8 L879.2 272.0 L881.6 271.2 L884.0 270.4 L886.4 269.6 L888.8 268.9 L891.1 268.1 L893.5 267.4 L895.9 266.6 L898.3 265.9 L900.7 265.2 L903.1 264.4 L905.5 263.7 L907.9 263.0 L910.3 262.3 L912.7 261.6 L915.1 260.9 L917.5 260.3 L920.0 259.6 L922.4 258.9 L924.8 258.3 L927.2 257.6 L929.6 257.0 L932.1 256.4 L934.5 255.8 L936.9 255.2 L939.3 254.5 L941.8 253.9 L944.2 253.4 L946.6 252.8 L949.1 252.2 L951.5 251.6 L954.0 251.1 L956.4 250.5 L958.8 250.0 L961.3 249.4 L963.7 248.9 L966.2 248.4 L968.6 247.8 L971.1 247.3 L973.6 246.8 L976.0 246.3 L978.5 245.8 L980.9 245.4 L983.4 244.9 L985.9 244.4 L988.3 244.0 L990.8 243.5 L993.2 243.0 L995.7 242.6 L998.2 242.2 L1000.7 241.7 L1003.1 241.3 L1005.6 240.9 L1008.1 240.5 L1010.6 240.1 L1013.0 239.7 L1015.5 239.3 L1018.0 238.9 L1020.5 238.6 L1022.9 238.2 L1025.4 237.8 L1027.9 237.5 L1030.4 237.1 L1032.9 236.8 L1035.4 236.4 L1037.8 236.1 L1040.3 235.8 L1042.8 235.5 L1045.3 235.2 L1047.8 234.9 L1050.3 234.6 L1052.8 234.3 L1055.3 234.0 L1057.8 233.7 L1060.2 233.4 L1062.7 233.2 L1065.2 232.9 L1067.7 232.6 L1070.2 232.4 L1072.7 232.1 L1075.2 231.9 L1077.7 231.7 L1080.2 231.4 L1082.7 231.2 L1085.2 231.0 L1087.7 230.8 L1090.2 230.6 L1092.7 230.4 L1095.2 230.2 L1097.7 230.0 L1100.2 229.8 L1102.7 229.6 L1105.2 229.5 L1107.7 229.3 L1110.2 229.1 L1112.7 229.0 L1115.2 228.8 L1117.7 228.6 L1120.2 228.5 L1122.7 228.4 L1125.2 228.2 L1127.7 228.1 L1130.2 227.9 L1132.7 227.8 L1135.2 227.7 L1137.7 227.6 L1140.2 227.4 L1142.7 227.3 L1145.2 227.2 L1147.7 227.1 L1150.2 227.0 L1152.7 226.9 L1155.2 226.8 L1157.7 226.7 L1160.2 226.6 L1162.7 226.5 L1165.2 226.4 L1167.7 226.3 L1170.2 226.3 L1172.7 226.2 L1175.2 226.1 L1177.7 226.0 L1180.2 225.9 L1182.7 225.9 L1185.2 225.8 L1187.8 225.7 L1190.3 225.7 L1192.8 225.6 L1195.3 225.5 L1197.8 225.5 L1200.3 225.4 L1202.8 225.3 L1205.3 225.3 L1207.8 225.2 L1210.3 225.2 L1212.8 225.1 L1215.3 225.0 L1217.8 225.0 L1220.3 224.9 L1222.8 224.9 L1225.3 224.8 L1227.8 224.8 L1230.3 224.7 L1232.9 224.7 L1235.4 224.6 L1237.9 224.6 L1240.4 224.5 L1242.9 224.5 L1245.4 224.4 L1247.9 224.4 L1250.4 224.3 L1252.9 224.3 L1255.4 224.2 L1257.9 224.2 L1260.4 224.1 L1262.9 224.1 L1265.4 224.0 L1267.9 224.0 L1270.4 223.9 L1272.9 223.9 L1275.5 223.8 L1278.0 223.8 L1280.5 223.7 L1283.0 223.7 L1285.5 223.7 L1288.0 223.6 L1290.5 223.6 L1293.0 223.5 L1295.5 223.5 L1298.0 223.5 L1300.5 223.4 L1303.0 223.4 L1305.5 223.3 L1308.0 223.3 L1310.5 223.3 L1313.0 223.2 L1315.5 223.2 L1318.0 223.1 L1320.6 223.1 L1323.1 223.1 L1325.6 223.0 L1328.1 223.0 L1330.6 223.0 L1333.1 222.9 L1335.6 222.9 L1338.1 222.9 L1340.6 222.8 L1343.1 222.8 L1345.6 222.7 L1348.1 222.7 L1350.6 222.7 L1353.1 222.7 L1355.6 222.6 L1358.1 222.6 L1360.6 222.6 L1363.2 222.5 L1365.7 222.5 L1368.2 222.5 L1370.7 222.4 L1373.2 222.4 L1375.7 222.4 L1378.2 222.4 L1380.7 222.3 L1383.2 222.3 L1385.7 222.3 L1388.2 222.2 L1390.7 222.2 L1393.2 222.2 L1395.7 222.2 L1398.2 222.1 L1400.7 222.1 L1403.2 222.1 L1405.7 222.1 L1408.3 222.0 L1410.8 222.0 L1413.3 222.0 L1415.8 222.0 L1418.3 222.0 L1420.8 221.9 L1423.3 221.9 L1425.8 221.9 L1428.3 221.9 L1430.8 221.9 L1433.3 221.8 L1435.8 221.8 L1438.3 221.8 L1440.8 221.8 L1443.3 221.8 L1445.8 221.7 L1448.3 221.7 L1450.9 221.7 L1453.4 221.7 L1455.9 221.7 L1458.4 221.7 L1460.9 221.6 L1463.4 221.6 L1465.9 221.6 L1468.4 221.6 L1470.9 221.6 L1473.4 221.6 L1475.9 221.5 L1478.4 221.5 L1480.9 221.5 L1483.4 221.5 L1485.9 221.5 L1488.4 221.5 L1490.9 221.5 L1493.5 221.5 L1496.0 221.4 L1498.5 221.4 L1501.0 221.4 L1503.5 221.4 L1506.0 221.4 L1508.5 221.4 L1511.0 221.4 L1513.5 221.4 L1516.0 221.4 L1518.5 221.4 L1521.0 221.3 L1523.5 221.3 L1526.0 221.3 L1528.5 221.3 L1531.0 221.3 L1533.5 221.3 L1536.1 221.3 L1538.6 221.3 L1541.1 221.3 L1543.6 221.3 L1546.1 221.3 L1548.6 221.3 L1551.1 221.3 L1553.6 221.3 L1556.1 221.3 L1558.6 221.3 L1561.1 221.3 L1563.6 221.2 L1566.1 221.2 L1568.6 221.2 L1571.1 221.2 L1573.6 221.2 L1576.1 221.2 L1578.6 221.2 L1581.2 221.2 L1583.7 221.2 L1586.2 221.2 L1588.7 221.2 L1591.2 221.2 L1593.7 221.2 L1596.2 221.2 L1598.7 221.2 L1601.2 221.2 L1603.7 221.2 L1606.2 221.2 L1608.7 221.2 L1611.2 221.2 L1613.7 221.2 L1616.2 221.2 L1618.7 221.2 L1621.2 221.2 L1623.8 221.2 L1626.3 221.2 L1628.8 221.3 L1631.3 221.3 L1633.8 221.3 L1636.3 221.3 L1638.8 221.3 L1641.3 221.3 L1643.8 221.3 L1646.3 221.3 L1648.8 221.3 L1651.3 221.3 L1653.8 221.3 L1656.3 221.3 L1658.8 221.3 L1661.3 221.3 L1663.8 221.3 L1666.4 221.3 L1668.9 221.3 L1671.4 221.3 L1673.9 221.4 L1676.4 221.4 L1678.9 221.4 L1681.4 221.4 L1683.9 221.4 L1686.4 221.4 L1688.9 221.4 L1691.4 221.4 L1693.9 221.4 L1696.4 221.4 L1698.9 221.4 L1701.4 221.4 L1703.9 221.5 L1706.4 221.5 L1709.0 221.5 L1711.5 221.5 L1714.0 221.5 L1716.5 221.5 L1719.0 221.5 L1721.5 221.5 L1724.0 221.5 L1726.5 221.6 L1729.0 221.6 L1731.5 221.6 L1734.0 221.6 L1736.5 221.6 L1739.0 221.6 L1741.5 221.6 L1744.0 221.6 L1746.5 221.7 L1749.0 221.7 L1751.6 221.7 L1754.1 221.7 L1756.6 221.7 L1759.1 221.7 L1761.6 221.7 L1764.1 221.8 L1766.6 221.8 L1769.1 221.8 L1771.6 221.8 L1774.1 221.8 L1776.6 221.8 L1779.1 221.8 L1781.6 221.9 L1784.1 221.9 L1786.6 221.9 L1789.1 221.9 L1791.6 221.9 L1794.2 221.9 L1796.7 222.0 L1799.2 222.0 L1801.7 222.0 L1804.2 222.0 L1806.7 222.0 L1809.2 222.0 L1811.7 222.1 L1814.2 222.1 L1816.7 222.1 L1819.2 222.1 L1821.7 222.1 L1824.2 222.1 L1826.7 222.2 L1829.2 222.2 L1831.7 222.2 L1834.2 222.2 L1836.8 222.2 L1839.3 222.2 L1841.8 222.3 L1844.3 222.3 L1846.8 222.3 L1849.3 222.3 L1851.8 222.3 L1854.3 222.4 L1856.8 222.4 L1859.3 222.4 L1861.8 222.4 L1864.3 222.4 L1866.8 222.5 L1869.3 222.5 L1871.8 222.5 L1874.3 222.5 L1876.8 222.5 L1879.4 222.6 L1881.9 222.6 L1884.4 222.6 L1886.9 222.6 L1889.4 222.6 L1891.9 222.7 L1894.4 222.7 L1896.9 222.7 L1899.4 222.7 L1901.9 222.7 L1904.4 222.8 L1906.9 222.8 L1909.4 222.8 L1911.9 222.8 L1914.4 222.9 L1916.9 222.9 L1919.5 222.9 L1922.0 222.9 L1924.5 222.9 L1927.0 223.0 L1929.5 223.0 L1932.0 223.0 L1934.5 223.0 L1937.0 223.1 L1939.5 223.1 L1942.0 223.1" fill="none" stroke="#0000ff" stroke-width="5.0" stroke-linejoin="round" stroke-linecap="butt"/>
<path d="M308.5 1141.0 L308.5 1138.5 L308.6 1136.0 L308.6 1133.5 L308.7 1131.0 L308.7 1128.5 L308.7 1126.0 L308.8 1123.5 L308.8 1121.0 L308.9 1118.5 L308.9 1116.0 L309.0 1113.5 L309.0 1111.0 L309.1 1108.5 L309.1 1106.0 L309.2 1103.4 L309.2 1100.9 L309.3 1098.4 L309.3 1095.9 L309.4 1093.4 L309.4 1090.9 L309.4 1088.4 L309.5 1085.9 L309.5 1083.4 L309.6 1080.9 L309.6 1078.4 L309.7 1075.9 L309.7 1073.4 L309.7 1070.9 L309.8 1068.4 L309.8 1065.9 L309.9 1063.4 L309.9 1060.9 L310.0 1058.4 L310.0 1055.9 L310.0 1053.4 L310.1 1050.9 L310.1 1048.4 L310.1 1045.9 L310.2 1043.4 L310.2 1040.8 L310.2 1038.3 L310.3 1035.8 L310.3 1033.3 L310.3 1030.8 L310.3 1028.3 L310.4 1025.8 L310.4 1023.3 L310.4 1020.8 L310.4 1018.3 L310.5 1015.8 L310.5 1013.3 L310.5 1010.8 L310.5 1008.3 L310.5 1005.8 L310.5 1003.3 L310.5 1000.8 L310.5 998.3 L310.6 995.8 L310.6 993.3 L310.6 990.8 L310.6 988.3 L310.6 985.8 L310.6 983.3 L310.6 980.8 L310.6 978.2 L310.6 975.7 L310.5 973.2 L310.5 970.7 L310.5 968.2 L310.5 965.7 L310.5 963.2 L310.5 960.7 L310.5 958.2 L310.5 955.7 L310.5 953.2 L310.5 950.7 L310.5 948.2 L310.5 945.7 L310.5 943.2 L310.5 940.7 L310.5 938.2 L310.5 935.7 L310.5 933.2 L310.4 930.7 L310.4 928.2 L310.4 925.7 L310.4 923.2 L310.4 920.7 L310.4 918.2 L310.5 915.7 L310.5 913.1 L310.5 910.6 L310.5 908.1 L310.5 905.6 L310.5 903.1 L310.5 900.6 L310.5 898.1 L310.6 895.6 L310.6 893.1 L310.6 890.6 L310.6 888.1 L310.7 885.6 L310.7 883.1 L310.7 880.6 L310.8 878.1 L310.8 875.6 L310.8 873.1 L310.9 870.6 L310.9 868.1 L311.0 865.6 L311.1 863.1 L311.1 860.6 L311.2 858.1 L311.3 855.5 L311.3 853.0 L311.4 850.5 L311.5 848.0 L311.6 845.5 L311.7 843.0 L311.7 840.5 L311.8 838.0 L312.0 835.5 L312.1 833.0 L312.2 830.5 L312.3 828.0 L312.4 825.5 L312.6 823.0 L312.8 820.5 L313.0 818.0 L313.2 815.5 L313.5 813.0 L313.8 810.6 L314.1 808.1 L314.4 805.6 L314.8 803.2 L315.2 800.7 L315.6 798.3 L316.0 795.8 L316.5 793.3 L316.9 790.9 L317.4 788.4 L317.9 786.0 L318.3 783.5 L318.8 781.1 L319.3 778.6 L319.9 776.1 L320.4 773.7 L320.9 771.2 L321.4 768.7 L321.9 766.2 L322.5 763.8 L323.1 761.3 L323.8 758.9 L324.5 756.5 L325.4 754.1 L326.3 751.8 L327.4 749.6 L328.6 747.4 L329.9 745.3 L331.4 743.3 L333.0 741.3 L334.8 739.5 L336.7 737.8 L338.6 736.2 L340.7 734.8 L342.8 733.5 L345.0 732.3 L347.3 731.3 L349.6 730.6 L351.9 729.9 L354.3 729.5 L356.8 729.1 L359.2 728.9 L361.7 728.7 L364.2 728.6 L366.7 728.5 L369.2 728.5 L371.7 728.5 L374.3 728.5 L376.8 728.5 L379.3 728.4 L381.8 728.4 L384.3 728.4 L386.8 728.4 L389.3 728.4 L391.9 728.4 L394.4 728.3 L396.9 728.3 L399.4 728.3 L401.9 728.3 L404.4 728.3 L406.9 728.3 L409.5 728.3 L412.0 728.2 L414.5 728.2 L417.0 728.2 L419.5 728.2 L422.0 728.2 L424.5 728.2 L427.0 728.2 L429.6 728.2 L432.1 728.1 L434.6 728.1 L437.1 728.1 L439.6 728.1 L442.1 728.1 L444.6 728.1 L447.1 728.1 L449.7 728.1 L452.2 728.1 L454.7 728.0 L457.2 728.0 L459.7 728.0 L462.2 728.0 L464.7 728.0 L467.2 728.0 L469.7 728.0 L472.3 728.0 L474.8 728.0 L477.3 728.0 L479.8 728.0 L482.3 727.9 L484.8 727.9 L487.3 727.9 L489.8 727.9 L492.3 727.9 L494.8 727.9 L497.3 727.9 L499.9 727.9 L502.4 727.9 L504.9 727.9 L507.4 727.9 L509.9 727.9 L512.4 727.9 L514.9 727.9 L517.4 727.9 L519.9 727.9 L522.4 727.9 L524.9 727.9 L527.4 727.8 L530.0 727.8 L532.5 727.8 L535.0 727.8 L537.5 727.8 L540.0 727.8 L542.5 727.8 L545.0 727.8 L547.5 727.8 L550.0 727.8 L552.5 727.8 L555.0 727.8 L557.5 727.8 L560.0 727.8 L562.5 727.8 L565.1 727.8 L567.6 727.8 L570.1 727.8 L572.6 727.8 L575.1 727.8 L577.6 727.8 L580.1 727.8 L582.6 727.8 L585.1 727.8 L587.6 727.8 L590.1 727.8 L592.6 727.8 L595.1 727.8 L597.6 727.8 L600.1 727.8 L602.6 727.8 L605.1 727.8 L607.6 727.8 L610.2 727.8 L612.7 727.8 L615.2 727.8 L617.7 727.8 L620.2 727.8 L622.7 727.8 L625.2 727.8 L627.7 727.8 L630.2 727.8 L632.7 727.8 L635.2 727.8 L637.7 727.8 L640.2 727.8 L642.7 727.9 L645.2 727.9 L647.7 727.9 L650.2 727.9 L652.7 727.9 L655.2 727.9 L657.7 727.9 L660.2 727.9 L662.7 727.9 L665.2 727.9 L667.7 727.9 L670.2 727.9 L672.7 727.9 L675.2 727.9 L677.8 727.9 L680.3 727.9 L682.8 727.9 L685.3 727.9 L687.8 727.9 L690.3 727.9 L692.8 727.9 L695.3 728.0 L697.8 728.0 L700.3 728.0 L702.8 728.0 L705.3 728.0 L707.8 728.0 L710.3 728.0 L712.8 728.0 L715.3 728.0 L717.8 728.0 L720.3 728.0 L722.8 728.0 L725.3 728.0 L727.8 728.0 L730.3 728.0 L732.8 728.1 L735.3 728.1 L737.8 728.1 L740.3 728.1 L742.8 728.1 L745.3 728.1 L747.8 728.1 L750.3 728.1 L752.8 728.1 L755.3 728.1 L757.8 728.1 L760.3 728.1 L762.8 728.1 L765.3 728.2 L767.8 728.2 L770.3 728.2 L772.8 728.2 L775.3 728.2 L777.8 728.2 L780.3 728.2 L782.8 728.2 L785.3 728.2 L787.8 728.2 L790.3 728.2 L792.8 728.2 L795.3 728.3 L797.8 728.3 L800.3 728.3 L802.8 728.3 L805.3 728.3 L807.8 728.3 L810.3 728.3 L812.8 728.3 L815.3 728.3 L817.8 728.3 L820.3 728.3 L822.8 728.4 L825.3 728.4 L827.8 728.4 L830.3 728.4 L832.8 728.4 L835.3 728.4 L837.8 728.4 L840.3 728.4 L842.8 728.4 L845.3 728.4 L847.8 728.4 L850.3 728.5 L852.9 728.5 L855.4 728.5 L857.9 728.5 L860.4 728.5 L862.9 728.5 L865.4 728.5 L867.9 728.5 L870.4 728.5 L872.9 728.5 L875.4 728.6 L877.9 728.6 L880.4 728.6 L882.9 728.6 L885.4 728.6 L887.9 728.6 L890.4 728.6 L892.9 728.6 L895.4 728.6 L897.9 728.6 L900.4 728.6 L902.9 728.7 L905.4 728.7 L907.9 728.7 L910.4 728.7 L912.9 728.7 L915.4 728.7 L917.9 728.7 L920.4 728.7 L922.9 728.7 L925.4 728.7 L927.9 728.7 L930.4 728.8 L932.9 728.8 L935.4 728.8 L937.9 728.8 L940.4 728.8 L942.9 728.8 L945.4 728.8 L947.9 728.8 L950.4 728.8 L952.9 728.8 L955.4 728.8 L957.9 728.9 L960.4 728.9 L962.9 728.9 L965.4 728.9 L967.9 728.9 L970.4 728.9 L972.9 728.9 L975.4 728.9 L977.9 728.9 L980.4 728.9 L982.9 728.9 L985.4 729.0 L987.9 729.0 L990.4 729.0 L992.9 729.0 L995.4 729.0 L997.9 729.0 L1000.4 729.0 L1002.9 729.0 L1005.4 729.0 L1007.9 729.0 L1010.4 729.0 L1012.9 729.0 L1015.4 729.0 L1017.9 729.1 L1020.4 729.1 L1022.9 729.1 L1025.4 729.1 L1027.9 729.1 L1030.4 729.1 L1032.9 729.1 L1035.4 729.1 L1037.9 729.1 L1040.4 729.1 L1042.9 729.1 L1045.4 729.1 L1047.9 729.1 L1050.4 729.1 L1053.0 729.2 L1055.5 729.2 L1058.0 729.2 L1060.5 729.2 L1063.0 729.2 L1065.5 729.2 L1068.0 729.2 L1070.5 729.2 L1073.0 729.2 L1075.5 729.2 L1078.0 729.2 L1080.5 729.2 L1083.0 729.2 L1085.5 729.2 L1088.0 729.2 L1090.5 729.2 L1093.0 729.3 L1095.5 729.3 L1098.0 729.3 L1100.5 729.3 L1103.0 729.3 L1105.5 729.3 L1108.0 729.3 L1110.5 729.3 L1113.0 729.3 L1115.5 729.3 L1118.0 729.3 L1120.5 729.3 L1123.0 729.3 L1125.5 729.3 L1128.0 729.3 L1130.5 729.3 L1133.1 729.3 L1135.6 729.3 L1138.1 729.3 L1140.6 729.4 L1143.1 729.4 L1145.6 729.4 L1148.1 729.4 L1150.6 729.4 L1153.1 729.4 L1155.6 729.4 L1158.1 729.4 L1160.6 729.4 L1163.1 729.4 L1165.6 729.4 L1168.1 729.4 L1170.6 729.4 L1173.1 729.4 L1175.6 729.4 L1178.1 729.4 L1180.6 729.4 L1183.1 729.4 L1185.6 729.4 L1188.1 729.4 L1190.6 729.4 L1193.1 729.4 L1195.7 729.4 L1198.2 729.5 L1200.7 729.5 L1203.2 729.5 L1205.7 729.5 L1208.2 729.5 L1210.7 729.5 L1213.2 729.5 L1215.7 729.5 L1218.2 729.5 L1220.7 729.5 L1223.2 729.5 L1225.7 729.5 L1228.2 729.5 L1230.7 729.5 L1233.2 729.5 L1235.7 729.5 L1238.2 729.5 L1240.7 729.5 L1243.2 729.5 L1245.7 729.5 L1248.2 729.5 L1250.8 729.5 L1253.3 729.5 L1255.8 729.5 L1258.3 729.5 L1260.8 729.5 L1263.3 729.5 L1265.8 729.5 L1268.3 729.5 L1270.8 729.5 L1273.3 729.5 L1275.8 729.5 L1278.3 729.6 L1280.8 729.6 L1283.3 729.6 L1285.8 729.6 L1288.3 729.6 L1290.8 729.6 L1293.3 729.6 L1295.8 729.6 L1298.3 729.6 L1300.8 729.6 L1303.4 729.6 L1305.9 729.6 L1308.4 729.6 L1310.9 729.6 L1313.4 729.6 L1315.9 729.6 L1318.4 729.6 L1320.9 729.6 L1323.4 729.6 L1325.9 729.6 L1328.4 729.6 L1330.9 729.6 L1333.4 729.6 L1335.9 729.6 L1338.4 729.6 L1340.9 729.6 L1343.4 729.6 L1345.9 729.6 L1348.4 729.6 L1351.0 729.6 L1353.5 729.6 L1356.0 729.6 L1358.5 729.6 L1361.0 729.6 L1363.5 729.6 L1366.0 729.6 L1368.5 729.6 L1371.0 729.6 L1373.5 729.6 L1376.0 729.6 L1378.5 729.6 L1381.0 729.6 L1383.5 729.6 L1386.0 729.6 L1388.5 729.6 L1391.0 729.6 L1393.5 729.6 L1396.1 729.6 L1398.6 729.6 L1401.1 729.6 L1403.6 729.6 L1406.1 729.6 L1408.6 729.6 L1411.1 729.6 L1413.6 729.6 L1416.1 729.7 L1418.6 729.7 L1421.1 729.7 L1423.6 729.7 L1426.1 729.7 L1428.6 729.7 L1431.1 729.7 L1433.6 729.7 L1436.1 729.7 L1438.6 729.7 L1441.1 729.7 L1443.7 729.7 L1446.2 729.7 L1448.7 729.7 L1451.2 729.7 L1453.7 729.7 L1456.2 729.7 L1458.7 729.7 L1461.2 729.7 L1463.7 729.7 L1466.2 729.7 L1468.7 729.7 L1471.2 729.7 L1473.7 729.7 L1476.2 729.7 L1478.7 729.7 L1481.2 729.7 L1483.7 729.7 L1486.2 729.7 L1488.8 729.7 L1491.3 729.7 L1493.8 729.7 L1496.3 729.7 L1498.8 729.7 L1501.3 729.7 L1503.8 729.7 L1506.3 729.7 L1508.8 729.7 L1511.3 729.7 L1513.8 729.7 L1516.3 729.7 L1518.8 729.7 L1521.3 729.7 L1523.8 729.7 L1526.3 729.7 L1528.8 729.7 L1531.3 729.7 L1533.9 729.7 L1536.4 729.7 L1538.9 729.7 L1541.4 729.7 L1543.9 729.7 L1546.4 729.7 L1548.9 729.7 L1551.4 729.7 L1553.9 729.7 L1556.4 729.7 L1558.9 729.7 L1561.4 729.7 L1563.9 729.7 L1566.4 729.7 L1568.9 729.7 L1571.4 729.7 L1573.9 729.7 L1576.4 729.7 L1578.9 729.7 L1581.5 729.7 L1584.0 729.7 L1586.5 729.7 L1589.0 729.7 L1591.5 729.7 L1594.0 729.7 L1596.5 729.7 L1599.0 729.7 L1601.5 729.7 L1604.0 729.7 L1606.5 729.7 L1609.0 729.7 L1611.5 729.7 L1614.0 729.7 L1616.5 729.7 L1619.0 729.7 L1621.5 729.7 L1624.0 729.7 L1626.5 729.7 L1629.1 729.7 L1631.6 729.7 L1634.1 729.7 L1636.6 729.7 L1639.1 729.7 L1641.6 729.7 L1644.1 729.7 L1646.6 729.7 L1649.1 729.7 L1651.6 729.7 L1654.1 729.7 L1656.6 729.7 L1659.1 729.7 L1661.6 729.7 L1664.1 729.7 L1666.6 729.7 L1669.1 729.7 L1671.6 729.7 L1674.1 729.7 L1676.6 729.7 L1679.2 729.7 L1681.7 729.7 L1684.2 729.8 L1686.7 729.8 L1689.2 729.8 L1691.7 729.8 L1694.2 729.8 L1696.7 729.8 L1699.2 729.8 L1701.7 729.8 L1704.2 729.8 L1706.7 729.8 L1709.2 729.8 L1711.7 729.8 L1714.2 729.8 L1716.7 729.8 L1719.2 729.8 L1721.7 729.8 L1724.2 729.8 L1726.7 729.8 L1729.2 729.8 L1731.7 729.8 L1734.2 729.8 L1736.8 729.8 L1739.3 729.8 L1741.8 729.8 L1744.3 729.8 L1746.8 729.8 L1749.3 729.8 L1751.8 729.8 L1754.3 729.8 L1756.8 729.8 L1759.3 729.8 L1761.8 729.8 L1764.3 729.8 L1766.8 729.8 L1769.3 729.8 L1771.8 729.8 L1774.3 729.8 L1776.8 729.8 L1779.3 729.8 L1781.8 729.8 L1784.3 729.8 L1786.8 729.8 L1789.3 729.8 L1791.8 729.8 L1794.3 729.8 L1796.8 729.8 L1799.3 729.8 L1801.9 729.8 L1804.4 729.8 L1806.9 729.8 L1809.4 729.8 L1811.9 729.8 L1814.4 729.8 L1816.9 729.8 L1819.4 729.8 L1821.9 729.9 L1824.4 729.9 L1826.9 729.9 L1829.4 729.9 L1831.9 729.9 L1834.4 729.9 L1836.9 729.9 L1839.4 729.9 L1841.9 729.9 L1844.4 729.9 L1846.9 729.9 L1849.4 729.9 L1851.9 729.9 L1854.4 729.9 L1856.9 729.9 L1859.4 729.9 L1861.9 729.9 L1864.4 729.9 L1866.9 729.9 L1869.4 729.9 L1871.9 729.9 L1874.4 729.9 L1876.9 729.9 L1879.4 729.9 L1881.9 729.9 L1884.4 729.9 L1886.9 729.9 L1889.5 729.9 L1892.0 729.9 L1894.5 729.9 L1897.0 729.9 L1899.5 729.9 L1902.0 729.9 L1904.5 730.0 L1907.0 730.0 L1909.5 730.0 L1912.0 730.0 L1914.5 730.0 L1917.0 730.0 L1919.5 730.0 L1922.0 730.0 L1924.5 730.0 L1927.0 730.0 L1929.5 730.0 L1932.0 730.0 L1934.5 730.0 L1937.0 730.0 L1939.5 730.0 L1942.0 730.0" fill="none" stroke="#ff00ff" stroke-width="5.0" stroke-linejoin="round" stroke-linecap="butt"/>
<path d="M308.0 1121.0 L308.1 1118.5 L308.2 1116.0 L308.3 1113.5 L308.4 1110.9 L308.5 1108.4 L308.6 1105.9 L308.7 1103.4 L308.7 1100.9 L308.8 1098.4 L308.8 1095.8 L308.9 1093.3 L308.9 1090.8 L309.0 1088.3 L309.0 1085.8 L309.0 1083.2 L309.1 1080.7 L309.1 1078.2 L309.1 1075.6 L309.1 1073.1 L309.1 1070.6 L309.1 1068.1 L309.1 1065.5 L309.1 1063.0 L309.1 1060.5 L309.0 1057.9 L309.0 1055.4 L309.0 1052.9 L309.0 1050.3 L308.9 1047.8 L308.9 1045.3 L308.9 1042.7 L308.8 1040.2 L308.8 1037.6 L308.7 1035.1 L308.7 1032.6 L308.7 1030.0 L308.6 1027.5 L308.6 1024.9 L308.5 1022.4 L308.5 1019.9 L308.4 1017.3 L308.4 1014.8 L308.3 1012.2 L308.3 1009.7 L308.2 1007.2 L308.1 1004.6 L308.1 1002.1 L308.0 999.5 L308.0 997.0 L307.9 994.5 L307.9 991.9 L307.8 989.4 L307.8 986.8 L307.7 984.3 L307.7 981.8 L307.7 979.2 L307.6 976.7 L307.6 974.1 L307.5 971.6 L307.5 969.1 L307.5 966.5 L307.4 964.0 L307.4 961.4 L307.4 958.9 L307.4 956.4 L307.4 953.8 L307.3 951.3 L307.3 948.7 L307.3 946.2 L307.3 943.7 L307.3 941.1 L307.3 938.6 L307.4 936.1 L307.4 933.5 L307.4 931.0 L307.4 928.5 L307.5 925.9 L307.5 923.4 L307.6 920.9 L307.6 918.3 L307.7 915.8 L307.7 913.3 L307.8 910.8 L307.9 908.2 L308.0 905.7 L308.1 903.2 L308.2 900.7 L308.3 898.1 L308.4 895.6 L308.5 893.1 L308.6 890.6 L308.8 888.1 L308.9 885.6 L309.1 883.0 L309.2 880.5 L309.4 878.0 L309.6 875.5 L309.8 873.0 L310.0 870.5 L310.2 868.0 L310.4 865.5 L310.6 863.0 L310.9 860.4 L311.1 857.9 L311.4 855.4 L311.6 852.9 L311.9 850.4 L312.2 847.9 L312.5 845.4 L312.8 842.9 L313.1 840.4 L313.5 837.9 L313.8 835.4 L314.1 832.9 L314.5 830.4 L314.9 827.9 L315.2 825.4 L315.6 822.9 L316.0 820.4 L316.4 817.8 L316.8 815.3 L317.3 812.8 L317.7 810.2 L318.1 807.7 L318.6 805.1 L319.0 802.6 L319.6 800.1 L320.1 797.5 L320.7 795.1 L321.4 792.6 L322.2 790.3 L323.1 787.9 L324.0 785.7 L325.1 783.5 L326.3 781.4 L327.7 779.4 L329.1 777.5 L330.8 775.7 L332.6 774.0 L334.6 772.5 L336.7 771.0 L339.0 769.7 L341.4 768.6 L343.9 767.6 L346.6 766.7 L346.2 766.5 L347.4 763.9 L349.6 764.1 L352.0 764.6 L354.4 764.7 L356.9 764.6 L359.5 764.4 L362.0 764.2 L364.5 764.1 L367.0 764.0 L369.5 763.8 L372.0 763.7 L374.5 763.7 L377.0 763.6 L379.6 763.5 L382.1 763.5 L384.6 763.4 L387.1 763.4 L389.6 763.3 L392.1 763.3 L394.6 763.2 L397.1 763.2 L399.6 763.1 L402.1 763.1 L404.6 763.0 L407.1 763.0 L409.6 762.9 L412.1 762.9 L414.6 762.8 L417.1 762.8 L419.6 762.7 L422.1 762.6 L424.6 762.6 L427.1 762.5 L429.6 762.5 L432.1 762.4 L434.6 762.4 L437.1 762.3 L439.6 762.3 L442.2 762.2 L444.7 762.1 L447.2 762.1 L449.7 762.0 L452.2 762.0 L454.7 761.9 L457.2 761.8 L459.7 761.8 L462.2 761.7 L464.7 761.7 L467.2 761.6 L469.7 761.5 L472.2 761.5 L474.7 761.4 L477.2 761.4 L479.7 761.3 L482.2 761.2 L484.7 761.2 L487.2 761.1 L489.7 761.0 L492.2 761.0 L494.7 760.9 L497.2 760.8 L499.7 760.8 L502.2 760.7 L504.7 760.6 L507.3 760.6 L509.8 760.5 L512.3 760.4 L514.8 760.4 L517.3 760.3 L519.8 760.2 L522.3 760.2 L524.8 760.1 L527.3 760.0 L529.8 760.0 L532.3 759.9 L534.8 759.8 L537.3 759.8 L539.8 759.7 L542.3 759.6 L544.8 759.6 L547.3 759.5 L549.8 759.4 L552.3 759.3 L554.8 759.3 L557.3 759.2 L559.8 759.1 L562.3 759.1 L564.8 759.0 L567.3 758.9 L569.9 758.8 L572.4 758.8 L574.9 758.7 L577.4 758.6 L579.9 758.6 L582.4 758.5 L584.9 758.4 L587.4 758.3 L589.9 758.3 L592.4 758.2 L594.9 758.1 L597.4 758.0 L599.9 758.0 L602.4 757.9 L604.9 757.8 L607.4 757.7 L609.9 757.7 L612.4 757.6 L614.9 757.5 L617.4 757.4 L619.9 757.4 L622.4 757.3 L624.9 757.2 L627.4 757.1 L629.9 757.1 L632.4 757.0 L635.0 756.9 L637.5 756.8 L640.0 756.8 L642.5 756.7 L645.0 756.6 L647.5 756.5 L650.0 756.5 L652.5 756.4 L655.0 756.3 L657.5 756.2 L660.0 756.1 L662.5 756.1 L665.0 756.0 L667.5 755.9 L670.0 755.8 L672.5 755.8 L675.0 755.7 L677.5 755.6 L680.0 755.5 L682.5 755.4 L685.0 755.4 L687.5 755.3 L690.0 755.2 L692.5 755.1 L695.0 755.1 L697.6 755.0 L700.1 754.9 L702.6 754.8 L705.1 754.7 L707.6 754.7 L710.1 754.6 L712.6 754.5 L715.1 754.4 L717.6 754.3 L720.1 754.3 L722.6 754.2 L725.1 754.1 L727.6 754.0 L730.1 753.9 L732.6 753.9 L735.1 753.8 L737.6 753.7 L740.1 753.6 L742.6 753.5 L745.1 753.5 L747.6 753.4 L750.1 753.3 L752.6 753.2 L755.1 753.2 L757.6 753.1 L760.2 753.0 L762.7 752.9 L765.2 752.8 L767.7 752.8 L770.2 752.7 L772.7 752.6 L775.2 752.5 L777.7 752.4 L780.2 752.4 L782.7 752.3 L785.2 752.2 L787.7 752.1 L790.2 752.0 L792.7 752.0 L795.2 751.9 L797.7 751.8 L800.2 751.7 L802.7 751.6 L805.2 751.6 L807.7 751.5 L810.2 751.4 L812.7 751.3 L815.2 751.2 L817.8 751.2 L820.3 751.1 L822.8 751.0 L825.3 750.9 L827.8 750.8 L830.3 750.8 L832.8 750.7 L835.3 750.6 L837.8 750.5 L840.3 750.4 L842.8 750.4 L845.3 750.3 L847.8 750.2 L850.3 750.1 L852.8 750.0 L855.3 750.0 L857.8 749.9 L860.3 749.8 L862.8 749.7 L865.3 749.6 L867.8 749.6 L870.3 749.5 L872.8 749.4 L875.4 749.3 L877.9 749.2 L880.4 749.1 L882.9 749.1 L885.4 749.0 L887.9 748.9 L890.4 748.8 L892.9 748.7 L895.4 748.6 L897.9 748.6 L900.4 748.5 L902.9 748.4 L905.4 748.3 L907.9 748.2 L910.4 748.1 L912.9 748.1 L915.4 748.0 L917.9 747.9 L920.4 747.8 L922.9 747.7 L925.4 747.6 L927.9 747.5 L930.4 747.4 L932.9 747.4 L935.5 747.3 L938.0 747.2 L940.5 747.1 L943.0 747.0 L945.5 746.9 L948.0 746.8 L950.5 746.7 L953.0 746.6 L955.5 746.5 L958.0 746.5 L960.5 746.4 L963.0 746.3 L965.5 746.2 L968.0 746.1 L970.5 746.0 L973.0 745.9 L975.5 745.8 L978.0 745.7 L980.5 745.6 L983.0 745.5 L985.5 745.4 L988.0 745.3 L990.5 745.2 L993.0 745.1 L995.5 745.0 L998.0 744.9 L1000.5 744.8 L1003.0 744.7 L1005.6 744.6 L1008.1 744.5 L1010.6 744.4 L1013.1 744.3 L1015.6 744.2 L1018.1 744.1 L1020.6 744.0 L1023.1 743.9 L1025.6 743.8 L1028.1 743.7 L1030.6 743.6 L1033.1 743.5 L1035.6 743.4 L1038.1 743.3 L1040.6 743.2 L1043.1 743.1 L1045.6 743.0 L1048.1 742.9 L1050.6 742.7 L1053.1 742.6 L1055.6 742.5 L1058.1 742.4 L1060.6 742.3 L1063.1 742.2 L1065.6 742.1 L1068.1 742.0 L1070.6 741.8 L1073.1 741.7 L1075.6 741.6 L1078.1 741.5 L1080.6 741.4 L1083.1 741.3 L1085.6 741.1 L1088.1 741.0 L1090.6 740.9 L1093.1 740.8 L1095.6 740.7 L1098.1 740.5 L1100.6 740.4 L1103.1 740.3 L1105.6 740.2 L1108.1 740.0 L1110.7 739.9 L1113.2 739.8 L1115.7 739.7 L1118.2 739.5 L1120.7 739.4 L1123.2 739.3 L1125.7 739.1 L1128.2 739.0 L1130.7 738.9 L1133.2 738.7 L1135.7 738.6 L1138.2 738.5 L1140.7 738.3 L1143.2 738.2 L1145.7 738.1 L1148.2 737.9 L1150.7 737.8 L1153.2 737.6 L1155.7 737.5 L1158.2 737.4 L1160.7 737.2 L1163.2 737.1 L1165.7 736.9 L1168.2 736.8 L1170.7 736.6 L1173.2 736.5 L1175.7 736.3 L1178.2 736.2 L1180.7 736.0 L1183.2 735.9 L1185.7 735.7 L1188.2 735.6 L1190.7 735.4 L1193.2 735.3 L1195.7 735.1 L1198.2 735.0 L1200.7 734.8 L1203.2 734.6 L1205.7 734.5 L1208.2 734.3 L1210.7 734.2 L1213.2 734.0 L1215.7 733.8 L1218.2 733.7 L1220.7 733.5 L1223.2 733.3 L1225.7 733.2 L1228.2 733.0 L1230.6 732.8 L1233.1 732.7 L1235.6 732.5 L1238.1 732.3 L1240.6 732.1 L1243.1 732.0 L1245.6 731.8 L1248.1 731.6 L1250.6 731.4 L1253.1 731.3 L1255.6 731.1 L1258.1 730.9 L1260.6 730.7 L1263.1 730.5 L1265.6 730.3 L1268.1 730.2 L1270.6 730.0 L1273.1 729.8 L1275.6 729.6 L1278.1 729.4 L1280.6 729.2 L1283.1 729.0 L1285.6 728.8 L1288.1 728.6 L1290.6 728.4 L1293.1 728.2 L1295.6 728.0 L1298.1 727.8 L1300.6 727.6 L1303.1 727.4 L1305.6 727.2 L1308.1 727.0 L1310.6 726.8 L1313.0 726.6 L1315.5 726.4 L1318.0 726.2 L1320.5 726.0 L1323.0 725.8 L1325.5 725.5 L1328.0 725.3 L1330.5 725.1 L1333.0 724.9 L1335.5 724.7 L1338.0 724.5 L1340.5 724.2 L1343.0 724.0 L1345.5 723.8 L1348.0 723.6 L1350.5 723.3 L1353.0 723.1 L1355.5 722.9 L1358.0 722.6 L1360.4 722.4 L1362.9 722.2 L1365.4 721.9 L1367.9 721.7 L1370.4 721.5 L1372.9 721.2 L1375.4 721.0 L1377.9 720.7 L1380.4 720.5 L1382.9 720.3 L1385.4 720.0 L1387.9 719.8 L1390.4 719.5 L1392.9 719.3 L1395.4 719.0 L1397.8 718.8 L1400.3 718.5 L1402.8 718.2 L1405.3 718.0 L1407.8 717.7 L1410.3 717.5 L1412.8 717.2 L1415.3 716.9 L1417.8 716.7 L1420.3 716.4 L1422.8 716.1 L1425.3 715.9 L1427.7 715.6 L1430.2 715.3 L1432.7 715.0 L1435.2 714.8 L1437.7 714.5 L1440.2 714.2 L1442.7 713.9 L1445.2 713.6 L1447.7 713.4 L1450.2 713.1 L1452.6 712.8 L1455.1 712.5 L1457.6 712.2 L1460.1 711.9 L1462.6 711.6 L1465.1 711.3 L1467.6 711.0 L1470.1 710.7 L1472.6 710.4 L1475.0 710.1 L1477.5 709.8 L1480.0 709.5 L1482.5 709.2 L1485.0 708.9 L1487.5 708.6 L1490.0 708.3 L1492.5 708.0 L1495.0 707.7 L1497.4 707.3 L1499.9 707.0 L1502.4 706.7 L1504.9 706.4 L1507.4 706.0 L1509.9 705.7 L1512.4 705.4 L1514.8 705.1 L1517.3 704.7 L1519.8 704.4 L1522.3 704.0 L1524.8 703.7 L1527.3 703.4 L1529.8 703.0 L1532.2 702.7 L1534.7 702.3 L1537.2 702.0 L1539.7 701.6 L1542.2 701.3 L1544.6 700.9 L1547.1 700.5 L1549.6 700.2 L1552.1 699.8 L1554.6 699.4 L1557.0 699.1 L1559.5 698.7 L1562.0 698.3 L1564.5 697.9 L1567.0 697.5 L1569.4 697.2 L1571.9 696.8 L1574.4 696.4 L1576.9 696.0 L1579.3 695.6 L1581.8 695.2 L1584.3 694.8 L1586.8 694.4 L1589.2 694.0 L1591.7 693.6 L1594.2 693.1 L1596.6 692.7 L1599.1 692.3 L1601.6 691.9 L1604.1 691.4 L1606.5 691.0 L1609.0 690.6 L1611.5 690.1 L1613.9 689.7 L1616.4 689.2 L1618.8 688.8 L1621.3 688.3 L1623.8 687.9 L1626.2 687.4 L1628.7 686.9 L1631.2 686.5 L1633.6 686.0 L1636.1 685.5 L1638.5 685.1 L1641.0 684.6 L1643.4 684.1 L1645.9 683.6 L1648.4 683.1 L1650.8 682.6 L1653.3 682.1 L1655.7 681.6 L1658.2 681.1 L1660.6 680.6 L1663.1 680.0 L1665.5 679.5 L1668.0 679.0 L1670.4 678.5 L1672.8 677.9 L1675.3 677.4 L1677.7 676.8 L1680.2 676.3 L1682.6 675.7 L1685.0 675.2 L1687.5 674.6 L1689.9 674.1 L1692.4 673.5 L1694.8 672.9 L1697.2 672.3 L1699.7 671.7 L1702.1 671.2 L1704.5 670.6 L1707.0 670.0 L1709.4 669.4 L1711.8 668.7 L1714.2 668.1 L1716.7 667.5 L1719.1 666.9 L1721.5 666.3 L1723.9 665.6 L1726.3 665.0 L1728.8 664.3 L1731.2 663.7 L1733.6 663.0 L1736.0 662.4 L1738.4 661.7 L1740.8 661.1 L1743.2 660.4 L1745.6 659.7 L1748.1 659.0 L1750.5 658.3 L1752.9 657.6 L1755.3 656.9 L1757.7 656.2 L1760.1 655.5 L1762.5 654.8 L1764.9 654.1 L1767.3 653.3 L1769.7 652.6 L1772.1 651.9 L1774.4 651.1 L1776.8 650.4 L1779.2 649.6 L1781.6 648.9 L1784.0 648.1 L1786.4 647.3 L1788.8 646.6 L1791.1 645.8 L1793.5 645.0 L1795.9 644.2 L1798.3 643.4 L1800.7 642.6 L1803.0 641.8 L1805.4 641.0 L1807.8 640.1 L1810.1 639.3 L1812.5 638.5 L1814.9 637.7 L1817.2 636.8 L1819.6 636.0 L1821.9 635.1 L1824.3 634.3 L1826.6 633.4 L1829.0 632.5 L1831.4 631.7 L1833.7 630.8 L1836.0 629.9 L1838.4 629.0 L1840.7 628.1 L1843.1 627.2 L1845.4 626.3 L1847.7 625.4 L1850.1 624.5 L1852.4 623.6 L1854.7 622.6 L1857.1 621.7 L1859.4 620.8 L1861.7 619.8 L1864.0 618.9 L1866.4 617.9 L1868.7 617.0 L1871.0 616.0 L1873.3 615.1 L1875.6 614.1 L1877.9 613.1 L1880.2 612.1 L1882.5 611.1 L1884.8 610.2 L1887.1 609.2 L1889.4 608.2 L1891.7 607.2 L1894.0 606.1 L1896.3 605.1 L1898.6 604.1 L1900.9 603.1 L1903.2 602.0 L1905.4 601.0 L1907.7 600.0 L1910.0 598.9 L1912.3 597.9 L1914.5 596.8 L1916.8 595.8 L1919.1 594.7 L1921.3 593.6 L1923.6 592.5 L1925.8 591.5 L1928.1 590.4 L1930.3 589.3 L1932.6 588.2 L1934.8 587.1 L1937.1 586.0 L1939.3 584.9 L1941.6 583.8" fill="none" stroke="#008000" stroke-width="5.0" stroke-linejoin="round" stroke-linecap="butt"/>
<text x="264.2" y="1265.9" font-size="61" text-anchor="end">90</text>
<text x="264.2" y="1116.8" font-size="61" text-anchor="end">100</text>
<text x="264.2" y="967.6" font-size="61" text-anchor="end">110</text>
<text x="264.2" y="818.5" font-size="61" text-anchor="end">120</text>
<text x="264.2" y="669.4" font-size="61" text-anchor="end">130</text>
<text x="264.2" y="520.3" font-size="61" text-anchor="end">140</text>
<text x="264.2" y="371.1" font-size="61" text-anchor="end">150</text>
<text x="264.2" y="222.0" font-size="61" text-anchor="end">160</text>
<text x="264.2" y="72.9" font-size="61" text-anchor="end">170</text>
<text x="305.5" y="1336.5" font-size="61" text-anchor="middle">0</text>
<text x="714.4" y="1336.5" font-size="61" text-anchor="middle">10</text>
<text x="1123.2" y="1336.5" font-size="61" text-anchor="middle">20</text>
<text x="1532.1" y="1336.5" font-size="61" text-anchor="middle">30</text>
<text x="1941.0" y="1336.5" font-size="61" text-anchor="middle">40</text>
<text x="1123.5" y="1439.0" font-size="60.5" text-anchor="middle">Time (h)</text>
<text transform="translate(74.0 651.5) rotate(-90)" x="0" y="0" font-size="60.0" text-anchor="middle">Pressure (kPa)</text>
<line x1="1091.5" y1="807.0" x2="1214.5" y2="807.0" stroke="#000000" stroke-width="4"/>
<text x="1227.0" y="824.8" font-size="54.0">Sample 1</text>
<line x1="1091.5" y1="872.5" x2="1214.5" y2="872.5" stroke="#ff0000" stroke-width="5"/>
<text x="1227.0" y="890.7" font-size="54.0">Sample 2</text>
<line x1="1091.5" y1="937.8" x2="1214.5" y2="937.8" stroke="#0000ff" stroke-width="5"/>
<text x="1227.0" y="955.8" font-size="54.0">Sample 3</text>
<line x1="1091.5" y1="1003.4" x2="1214.5" y2="1003.4" stroke="#ff00ff" stroke-width="5"/>
<text x="1227.0" y="1021.9" font-size="54.0">Sample 4</text>
<line x1="1091.5" y1="1069.2" x2="1214.5" y2="1069.2" stroke="#008000" stroke-width="5"/>
<text x="1227.0" y="1086.6" font-size="54.0">NC+ADN</text>
</svg></body></html>
